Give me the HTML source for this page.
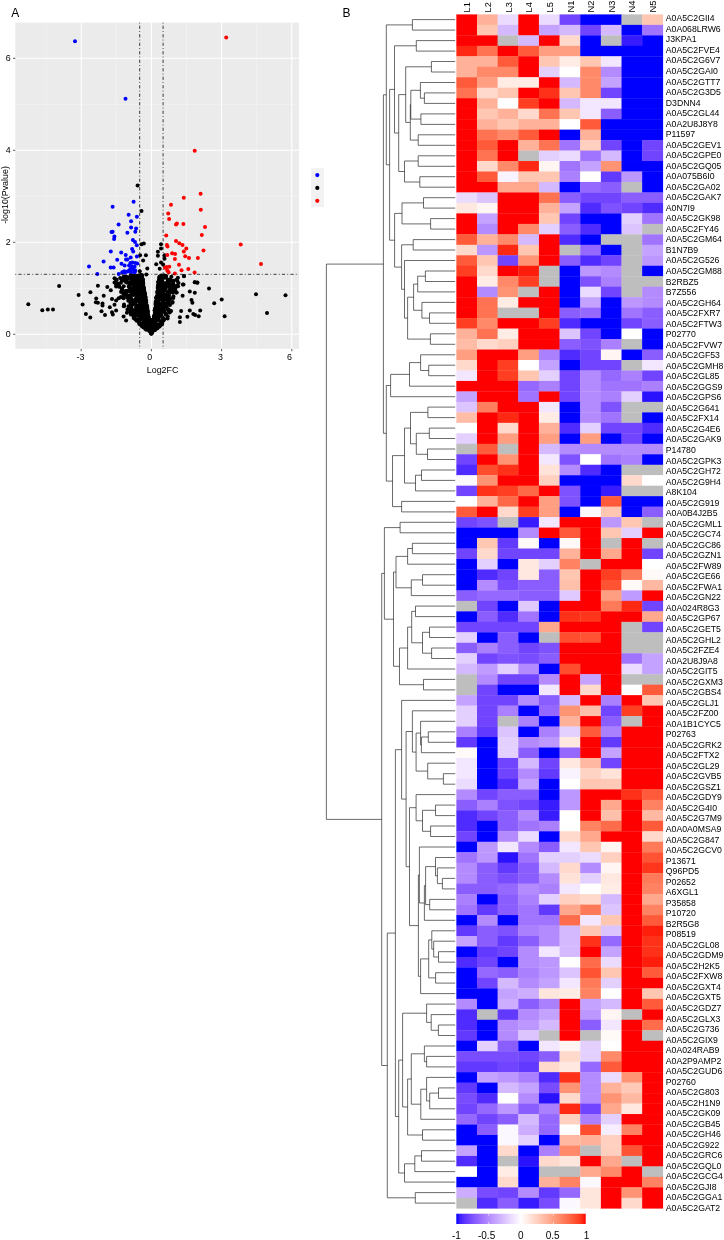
<!DOCTYPE html>
<html lang="en"><head><meta charset="utf-8"><title>Figure</title>
<style>html,body{margin:0;padding:0;background:#fff}body{width:724px;height:1240px;overflow:hidden}svg{display:block}text{font-family:"Liberation Sans",Arial,Helvetica,sans-serif;fill:#000}</style></head><body>
<svg width="724" height="1240" viewBox="0 0 724 1240">
<rect width="724" height="1240" fill="#fff"/>
<g id="volcano">
<rect x="15.3" y="22.6" width="283.7" height="326.3" fill="#ebebeb"/>
<path d="M46.1 22.6V348.9M116.3 22.6V348.9M186.5 22.6V348.9M256.7 22.6V348.9M15.3 288.3H299.0M15.3 196.3H299.0M15.3 104.3H299.0" stroke="#f5f5f5" stroke-width="0.55" fill="none"/>
<path d="M81.2 22.6V348.9M151.4 22.6V348.9M221.6 22.6V348.9M291.8 22.6V348.9M15.3 334.3H299.0M15.3 242.3H299.0M15.3 150.3H299.0M15.3 58.3H299.0" stroke="#ffffff" stroke-width="1.05" fill="none"/>
<g fill="#000"><circle cx="151.3" cy="325.9" r="2.0"/><circle cx="147.5" cy="311.8" r="2.0"/><circle cx="123.8" cy="294.2" r="2.0"/><circle cx="144.4" cy="301.0" r="2.0"/><circle cx="142.5" cy="282.7" r="2.0"/><circle cx="131.5" cy="308.3" r="2.0"/><circle cx="159.8" cy="280.4" r="2.0"/><circle cx="166.2" cy="306.5" r="2.0"/><circle cx="147.5" cy="315.3" r="2.0"/><circle cx="140.8" cy="306.1" r="2.0"/><circle cx="117.9" cy="283.6" r="2.0"/><circle cx="163.2" cy="292.9" r="2.0"/><circle cx="143.3" cy="325.0" r="2.0"/><circle cx="145.2" cy="296.2" r="2.0"/><circle cx="159.6" cy="310.3" r="2.0"/><circle cx="131.5" cy="293.5" r="2.0"/><circle cx="159.0" cy="316.7" r="2.0"/><circle cx="138.5" cy="290.5" r="2.0"/><circle cx="144.3" cy="303.1" r="2.0"/><circle cx="162.8" cy="296.2" r="2.0"/><circle cx="171.3" cy="285.8" r="2.0"/><circle cx="138.5" cy="282.2" r="2.0"/><circle cx="137.5" cy="283.6" r="2.0"/><circle cx="155.7" cy="303.5" r="2.0"/><circle cx="141.3" cy="276.5" r="2.0"/><circle cx="151.8" cy="321.3" r="2.0"/><circle cx="136.9" cy="276.7" r="2.0"/><circle cx="127.5" cy="297.7" r="2.0"/><circle cx="163.2" cy="312.1" r="2.0"/><circle cx="172.5" cy="286.1" r="2.0"/><circle cx="134.9" cy="294.0" r="2.0"/><circle cx="144.5" cy="304.8" r="2.0"/><circle cx="146.8" cy="305.5" r="2.0"/><circle cx="147.3" cy="307.9" r="2.0"/><circle cx="142.5" cy="281.5" r="2.0"/><circle cx="163.3" cy="296.9" r="2.0"/><circle cx="158.1" cy="285.4" r="2.0"/><circle cx="169.8" cy="291.2" r="2.0"/><circle cx="143.7" cy="299.2" r="2.0"/><circle cx="156.8" cy="320.3" r="2.0"/><circle cx="157.4" cy="292.1" r="2.0"/><circle cx="158.4" cy="292.7" r="2.0"/><circle cx="136.5" cy="310.7" r="2.0"/><circle cx="158.4" cy="324.5" r="2.0"/><circle cx="133.6" cy="277.2" r="2.0"/><circle cx="130.6" cy="303.4" r="2.0"/><circle cx="138.1" cy="320.0" r="2.0"/><circle cx="142.5" cy="286.3" r="2.0"/><circle cx="147.0" cy="315.4" r="2.0"/><circle cx="157.5" cy="293.6" r="2.0"/><circle cx="141.8" cy="280.7" r="2.0"/><circle cx="162.5" cy="298.7" r="2.0"/><circle cx="161.9" cy="297.2" r="2.0"/><circle cx="140.3" cy="293.3" r="2.0"/><circle cx="145.6" cy="297.2" r="2.0"/><circle cx="144.1" cy="301.1" r="2.0"/><circle cx="157.3" cy="296.2" r="2.0"/><circle cx="154.6" cy="321.6" r="2.0"/><circle cx="121.1" cy="292.1" r="2.0"/><circle cx="151.4" cy="328.7" r="2.0"/><circle cx="151.2" cy="320.3" r="2.0"/><circle cx="141.0" cy="291.5" r="2.0"/><circle cx="138.9" cy="293.5" r="2.0"/><circle cx="136.8" cy="280.7" r="2.0"/><circle cx="137.0" cy="289.4" r="2.0"/><circle cx="131.6" cy="305.3" r="2.0"/><circle cx="167.0" cy="282.5" r="2.0"/><circle cx="151.4" cy="320.9" r="2.0"/><circle cx="129.4" cy="296.4" r="2.0"/><circle cx="146.8" cy="318.0" r="2.0"/><circle cx="154.6" cy="319.0" r="2.0"/><circle cx="166.6" cy="294.1" r="2.0"/><circle cx="172.6" cy="302.0" r="2.0"/><circle cx="145.1" cy="300.4" r="2.0"/><circle cx="157.1" cy="298.9" r="2.0"/><circle cx="142.9" cy="288.8" r="2.0"/><circle cx="144.4" cy="296.7" r="2.0"/><circle cx="153.4" cy="320.4" r="2.0"/><circle cx="157.0" cy="298.4" r="2.0"/><circle cx="138.0" cy="297.9" r="2.0"/><circle cx="158.2" cy="303.2" r="2.0"/><circle cx="134.0" cy="310.4" r="2.0"/><circle cx="142.1" cy="290.7" r="2.0"/><circle cx="139.7" cy="296.5" r="2.0"/><circle cx="159.2" cy="310.4" r="2.0"/><circle cx="152.3" cy="320.6" r="2.0"/><circle cx="159.5" cy="276.8" r="2.0"/><circle cx="153.9" cy="315.9" r="2.0"/><circle cx="134.7" cy="301.2" r="2.0"/><circle cx="158.9" cy="289.4" r="2.0"/><circle cx="141.3" cy="282.9" r="2.0"/><circle cx="132.7" cy="312.6" r="2.0"/><circle cx="151.4" cy="328.2" r="2.0"/><circle cx="145.8" cy="318.4" r="2.0"/><circle cx="151.3" cy="323.3" r="2.0"/><circle cx="146.6" cy="313.3" r="2.0"/><circle cx="140.4" cy="278.7" r="2.0"/><circle cx="139.4" cy="319.6" r="2.0"/><circle cx="135.1" cy="285.4" r="2.0"/><circle cx="168.9" cy="310.9" r="2.0"/><circle cx="144.0" cy="318.2" r="2.0"/><circle cx="163.5" cy="297.8" r="2.0"/><circle cx="163.4" cy="283.6" r="2.0"/><circle cx="141.9" cy="278.2" r="2.0"/><circle cx="143.8" cy="322.8" r="2.0"/><circle cx="140.6" cy="280.4" r="2.0"/><circle cx="173.8" cy="290.1" r="2.0"/><circle cx="137.9" cy="315.5" r="2.0"/><circle cx="163.8" cy="289.9" r="2.0"/><circle cx="143.9" cy="297.0" r="2.0"/><circle cx="138.1" cy="319.4" r="2.0"/><circle cx="141.6" cy="276.3" r="2.0"/><circle cx="154.4" cy="324.3" r="2.0"/><circle cx="138.3" cy="288.8" r="2.0"/><circle cx="140.3" cy="284.6" r="2.0"/><circle cx="176.0" cy="292.6" r="2.0"/><circle cx="167.7" cy="279.7" r="2.0"/><circle cx="145.9" cy="328.7" r="2.0"/><circle cx="157.0" cy="296.3" r="2.0"/><circle cx="157.3" cy="303.8" r="2.0"/><circle cx="141.5" cy="279.0" r="2.0"/><circle cx="152.5" cy="323.6" r="2.0"/><circle cx="140.3" cy="311.7" r="2.0"/><circle cx="148.8" cy="325.8" r="2.0"/><circle cx="148.9" cy="318.4" r="2.0"/><circle cx="156.3" cy="300.9" r="2.0"/><circle cx="151.3" cy="320.3" r="2.0"/><circle cx="168.9" cy="295.2" r="2.0"/><circle cx="155.8" cy="310.7" r="2.0"/><circle cx="144.9" cy="307.3" r="2.0"/><circle cx="131.5" cy="308.9" r="2.0"/><circle cx="132.8" cy="289.8" r="2.0"/><circle cx="147.4" cy="318.7" r="2.0"/><circle cx="158.3" cy="287.0" r="2.0"/><circle cx="141.1" cy="295.6" r="2.0"/><circle cx="151.4" cy="326.5" r="2.0"/><circle cx="132.7" cy="314.8" r="2.0"/><circle cx="141.7" cy="280.3" r="2.0"/><circle cx="147.7" cy="316.5" r="2.0"/><circle cx="128.5" cy="306.3" r="2.0"/><circle cx="161.9" cy="300.2" r="2.0"/><circle cx="166.7" cy="306.4" r="2.0"/><circle cx="132.9" cy="291.5" r="2.0"/><circle cx="157.4" cy="298.6" r="2.0"/><circle cx="142.7" cy="283.4" r="2.0"/><circle cx="165.7" cy="284.1" r="2.0"/><circle cx="127.2" cy="282.8" r="2.0"/><circle cx="161.4" cy="294.8" r="2.0"/><circle cx="142.5" cy="279.9" r="2.0"/><circle cx="133.0" cy="314.1" r="2.0"/><circle cx="143.0" cy="301.5" r="2.0"/><circle cx="151.1" cy="327.5" r="2.0"/><circle cx="150.9" cy="325.4" r="2.0"/><circle cx="155.2" cy="309.3" r="2.0"/><circle cx="130.9" cy="314.6" r="2.0"/><circle cx="145.4" cy="310.4" r="2.0"/><circle cx="147.1" cy="319.5" r="2.0"/><circle cx="145.0" cy="298.8" r="2.0"/><circle cx="143.8" cy="293.7" r="2.0"/><circle cx="141.8" cy="275.2" r="2.0"/><circle cx="163.3" cy="309.1" r="2.0"/><circle cx="150.7" cy="320.4" r="2.0"/><circle cx="146.7" cy="313.9" r="2.0"/><circle cx="145.4" cy="314.8" r="2.0"/><circle cx="160.0" cy="294.2" r="2.0"/><circle cx="139.7" cy="320.8" r="2.0"/><circle cx="162.2" cy="323.7" r="2.0"/><circle cx="121.9" cy="288.7" r="2.0"/><circle cx="144.0" cy="297.0" r="2.0"/><circle cx="143.1" cy="303.3" r="2.0"/><circle cx="144.1" cy="293.4" r="2.0"/><circle cx="130.6" cy="302.5" r="2.0"/><circle cx="143.2" cy="290.6" r="2.0"/><circle cx="160.2" cy="298.5" r="2.0"/><circle cx="167.7" cy="291.9" r="2.0"/><circle cx="145.6" cy="300.3" r="2.0"/><circle cx="142.5" cy="285.5" r="2.0"/><circle cx="143.1" cy="283.2" r="2.0"/><circle cx="122.0" cy="289.2" r="2.0"/><circle cx="143.2" cy="316.6" r="2.0"/><circle cx="168.3" cy="285.9" r="2.0"/><circle cx="162.7" cy="289.0" r="2.0"/><circle cx="163.0" cy="300.8" r="2.0"/><circle cx="143.2" cy="311.9" r="2.0"/><circle cx="141.8" cy="277.1" r="2.0"/><circle cx="143.2" cy="285.1" r="2.0"/><circle cx="141.7" cy="280.0" r="2.0"/><circle cx="146.8" cy="306.8" r="2.0"/><circle cx="151.4" cy="323.5" r="2.0"/><circle cx="155.7" cy="307.6" r="2.0"/><circle cx="144.6" cy="293.1" r="2.0"/><circle cx="178.1" cy="286.2" r="2.0"/><circle cx="152.8" cy="328.6" r="2.0"/><circle cx="133.9" cy="287.4" r="2.0"/><circle cx="123.7" cy="286.3" r="2.0"/><circle cx="155.1" cy="319.1" r="2.0"/><circle cx="146.5" cy="305.5" r="2.0"/><circle cx="139.0" cy="288.0" r="2.0"/><circle cx="149.5" cy="323.0" r="2.0"/><circle cx="158.6" cy="300.1" r="2.0"/><circle cx="160.7" cy="276.5" r="2.0"/><circle cx="157.7" cy="317.5" r="2.0"/><circle cx="145.7" cy="321.4" r="2.0"/><circle cx="156.4" cy="297.6" r="2.0"/><circle cx="165.7" cy="314.4" r="2.0"/><circle cx="139.4" cy="309.5" r="2.0"/><circle cx="144.5" cy="293.6" r="2.0"/><circle cx="165.8" cy="306.3" r="2.0"/><circle cx="158.2" cy="293.2" r="2.0"/><circle cx="138.8" cy="275.6" r="2.0"/><circle cx="142.9" cy="307.8" r="2.0"/><circle cx="157.2" cy="297.2" r="2.0"/><circle cx="160.8" cy="312.2" r="2.0"/><circle cx="144.5" cy="294.0" r="2.0"/><circle cx="139.1" cy="322.6" r="2.0"/><circle cx="168.6" cy="282.6" r="2.0"/><circle cx="136.9" cy="312.9" r="2.0"/><circle cx="137.2" cy="313.9" r="2.0"/><circle cx="159.4" cy="298.0" r="2.0"/><circle cx="144.5" cy="296.7" r="2.0"/><circle cx="143.5" cy="322.3" r="2.0"/><circle cx="132.9" cy="293.6" r="2.0"/><circle cx="167.6" cy="300.5" r="2.0"/><circle cx="139.5" cy="285.7" r="2.0"/><circle cx="156.9" cy="307.3" r="2.0"/><circle cx="136.3" cy="308.5" r="2.0"/><circle cx="151.7" cy="327.4" r="2.0"/><circle cx="148.2" cy="325.1" r="2.0"/><circle cx="135.0" cy="303.3" r="2.0"/><circle cx="134.7" cy="289.2" r="2.0"/><circle cx="140.5" cy="304.7" r="2.0"/><circle cx="131.9" cy="294.8" r="2.0"/><circle cx="151.0" cy="322.3" r="2.0"/><circle cx="173.8" cy="291.1" r="2.0"/><circle cx="141.2" cy="277.3" r="2.0"/><circle cx="158.4" cy="319.3" r="2.0"/><circle cx="138.0" cy="294.6" r="2.0"/><circle cx="128.3" cy="300.7" r="2.0"/><circle cx="128.7" cy="286.5" r="2.0"/><circle cx="142.4" cy="278.8" r="2.0"/><circle cx="143.4" cy="290.1" r="2.0"/><circle cx="133.9" cy="284.4" r="2.0"/><circle cx="140.6" cy="314.1" r="2.0"/><circle cx="147.7" cy="311.8" r="2.0"/><circle cx="146.9" cy="310.8" r="2.0"/><circle cx="136.3" cy="282.4" r="2.0"/><circle cx="154.9" cy="317.9" r="2.0"/><circle cx="144.5" cy="291.7" r="2.0"/><circle cx="153.9" cy="316.5" r="2.0"/><circle cx="140.2" cy="296.7" r="2.0"/><circle cx="162.4" cy="303.7" r="2.0"/><circle cx="140.6" cy="294.4" r="2.0"/><circle cx="139.7" cy="284.2" r="2.0"/><circle cx="159.7" cy="283.9" r="2.0"/><circle cx="162.3" cy="281.2" r="2.0"/><circle cx="146.9" cy="308.5" r="2.0"/><circle cx="154.4" cy="318.9" r="2.0"/><circle cx="164.5" cy="287.5" r="2.0"/><circle cx="141.6" cy="282.4" r="2.0"/><circle cx="141.2" cy="284.8" r="2.0"/><circle cx="136.8" cy="300.9" r="2.0"/><circle cx="139.6" cy="282.1" r="2.0"/><circle cx="161.8" cy="285.9" r="2.0"/><circle cx="161.5" cy="275.6" r="2.0"/><circle cx="144.8" cy="303.3" r="2.0"/><circle cx="142.9" cy="282.6" r="2.0"/><circle cx="147.5" cy="310.0" r="2.0"/><circle cx="133.1" cy="281.5" r="2.0"/><circle cx="163.2" cy="295.0" r="2.0"/><circle cx="159.8" cy="303.7" r="2.0"/><circle cx="142.2" cy="279.4" r="2.0"/><circle cx="161.1" cy="282.5" r="2.0"/><circle cx="144.7" cy="294.0" r="2.0"/><circle cx="143.5" cy="298.4" r="2.0"/><circle cx="131.2" cy="277.8" r="2.0"/><circle cx="164.7" cy="286.5" r="2.0"/><circle cx="124.6" cy="277.6" r="2.0"/><circle cx="162.5" cy="287.4" r="2.0"/><circle cx="137.4" cy="289.0" r="2.0"/><circle cx="124.3" cy="276.8" r="2.0"/><circle cx="160.2" cy="297.0" r="2.0"/><circle cx="142.5" cy="278.8" r="2.0"/><circle cx="166.0" cy="276.7" r="2.0"/><circle cx="136.8" cy="307.3" r="2.0"/><circle cx="158.4" cy="282.6" r="2.0"/><circle cx="140.8" cy="279.0" r="2.0"/><circle cx="156.4" cy="306.7" r="2.0"/><circle cx="134.2" cy="301.8" r="2.0"/><circle cx="166.3" cy="296.9" r="2.0"/><circle cx="169.7" cy="312.6" r="2.0"/><circle cx="135.2" cy="277.1" r="2.0"/><circle cx="161.0" cy="276.9" r="2.0"/><circle cx="135.0" cy="280.4" r="2.0"/><circle cx="135.7" cy="298.9" r="2.0"/><circle cx="145.8" cy="304.8" r="2.0"/><circle cx="163.6" cy="286.9" r="2.0"/><circle cx="142.8" cy="307.6" r="2.0"/><circle cx="135.3" cy="278.5" r="2.0"/><circle cx="153.9" cy="323.9" r="2.0"/><circle cx="121.6" cy="279.7" r="2.0"/><circle cx="155.7" cy="312.4" r="2.0"/><circle cx="123.5" cy="293.7" r="2.0"/><circle cx="159.0" cy="279.7" r="2.0"/><circle cx="167.3" cy="309.6" r="2.0"/><circle cx="135.1" cy="319.0" r="2.0"/><circle cx="162.0" cy="281.6" r="2.0"/><circle cx="148.1" cy="322.7" r="2.0"/><circle cx="173.1" cy="285.7" r="2.0"/><circle cx="156.6" cy="313.2" r="2.0"/><circle cx="151.9" cy="327.4" r="2.0"/><circle cx="141.4" cy="325.0" r="2.0"/><circle cx="138.9" cy="299.1" r="2.0"/><circle cx="135.9" cy="302.1" r="2.0"/><circle cx="167.7" cy="316.3" r="2.0"/><circle cx="160.8" cy="310.9" r="2.0"/><circle cx="144.9" cy="297.1" r="2.0"/><circle cx="141.1" cy="319.3" r="2.0"/><circle cx="136.2" cy="299.4" r="2.0"/><circle cx="150.3" cy="320.2" r="2.0"/><circle cx="155.3" cy="318.8" r="2.0"/><circle cx="155.6" cy="304.9" r="2.0"/><circle cx="152.7" cy="328.4" r="2.0"/><circle cx="136.8" cy="275.8" r="2.0"/><circle cx="132.9" cy="304.6" r="2.0"/><circle cx="172.4" cy="302.7" r="2.0"/><circle cx="150.5" cy="325.5" r="2.0"/><circle cx="169.7" cy="280.1" r="2.0"/><circle cx="128.9" cy="282.6" r="2.0"/><circle cx="165.4" cy="306.9" r="2.0"/><circle cx="144.2" cy="310.1" r="2.0"/><circle cx="130.9" cy="301.3" r="2.0"/><circle cx="159.3" cy="293.6" r="2.0"/><circle cx="141.9" cy="287.2" r="2.0"/><circle cx="176.7" cy="292.5" r="2.0"/><circle cx="145.1" cy="301.1" r="2.0"/><circle cx="140.6" cy="281.4" r="2.0"/><circle cx="141.9" cy="294.9" r="2.0"/><circle cx="144.0" cy="288.9" r="2.0"/><circle cx="144.1" cy="302.6" r="2.0"/><circle cx="136.7" cy="291.0" r="2.0"/><circle cx="145.2" cy="302.0" r="2.0"/><circle cx="126.2" cy="277.8" r="2.0"/><circle cx="156.2" cy="308.8" r="2.0"/><circle cx="136.4" cy="280.2" r="2.0"/><circle cx="136.6" cy="320.8" r="2.0"/><circle cx="136.1" cy="293.7" r="2.0"/><circle cx="156.4" cy="297.6" r="2.0"/><circle cx="162.9" cy="317.7" r="2.0"/><circle cx="116.2" cy="284.6" r="2.0"/><circle cx="161.8" cy="278.5" r="2.0"/><circle cx="148.2" cy="316.8" r="2.0"/><circle cx="164.7" cy="296.0" r="2.0"/><circle cx="167.4" cy="282.6" r="2.0"/><circle cx="137.1" cy="291.6" r="2.0"/><circle cx="163.2" cy="291.7" r="2.0"/><circle cx="175.1" cy="286.0" r="2.0"/><circle cx="158.6" cy="283.1" r="2.0"/><circle cx="137.3" cy="297.1" r="2.0"/><circle cx="146.1" cy="305.3" r="2.0"/><circle cx="127.4" cy="309.4" r="2.0"/><circle cx="146.3" cy="310.4" r="2.0"/><circle cx="140.4" cy="299.0" r="2.0"/><circle cx="168.9" cy="310.6" r="2.0"/><circle cx="133.6" cy="300.4" r="2.0"/><circle cx="164.5" cy="295.1" r="2.0"/><circle cx="155.3" cy="324.0" r="2.0"/><circle cx="138.3" cy="284.9" r="2.0"/><circle cx="139.5" cy="284.9" r="2.0"/><circle cx="127.7" cy="295.6" r="2.0"/><circle cx="146.1" cy="305.7" r="2.0"/><circle cx="158.4" cy="287.3" r="2.0"/><circle cx="151.3" cy="328.1" r="2.0"/><circle cx="159.7" cy="310.7" r="2.0"/><circle cx="159.5" cy="294.4" r="2.0"/><circle cx="130.3" cy="312.4" r="2.0"/><circle cx="159.1" cy="314.5" r="2.0"/><circle cx="139.9" cy="293.0" r="2.0"/><circle cx="142.0" cy="297.8" r="2.0"/><circle cx="168.5" cy="309.3" r="2.0"/><circle cx="144.0" cy="295.1" r="2.0"/><circle cx="136.4" cy="309.1" r="2.0"/><circle cx="136.5" cy="279.6" r="2.0"/><circle cx="175.6" cy="287.1" r="2.0"/><circle cx="158.9" cy="282.1" r="2.0"/><circle cx="173.4" cy="296.2" r="2.0"/><circle cx="142.1" cy="280.7" r="2.0"/><circle cx="137.9" cy="309.7" r="2.0"/><circle cx="135.3" cy="319.1" r="2.0"/><circle cx="166.9" cy="284.3" r="2.0"/><circle cx="142.6" cy="281.7" r="2.0"/><circle cx="140.8" cy="297.7" r="2.0"/><circle cx="139.6" cy="290.1" r="2.0"/><circle cx="141.4" cy="295.9" r="2.0"/><circle cx="161.5" cy="281.9" r="2.0"/><circle cx="138.8" cy="293.8" r="2.0"/><circle cx="148.1" cy="315.0" r="2.0"/><circle cx="145.9" cy="310.9" r="2.0"/><circle cx="134.1" cy="315.2" r="2.0"/><circle cx="158.8" cy="308.1" r="2.0"/><circle cx="126.4" cy="281.2" r="2.0"/><circle cx="144.8" cy="314.1" r="2.0"/><circle cx="155.7" cy="307.7" r="2.0"/><circle cx="145.7" cy="300.8" r="2.0"/><circle cx="142.5" cy="280.8" r="2.0"/><circle cx="156.3" cy="310.8" r="2.0"/><circle cx="150.7" cy="326.4" r="2.0"/><circle cx="120.1" cy="278.0" r="2.0"/><circle cx="174.7" cy="288.8" r="2.0"/><circle cx="157.9" cy="310.2" r="2.0"/><circle cx="123.6" cy="280.6" r="2.0"/><circle cx="141.9" cy="290.6" r="2.0"/><circle cx="159.4" cy="277.5" r="2.0"/><circle cx="168.0" cy="300.2" r="2.0"/><circle cx="144.4" cy="299.3" r="2.0"/><circle cx="140.5" cy="297.3" r="2.0"/><circle cx="138.1" cy="285.0" r="2.0"/><circle cx="168.9" cy="301.2" r="2.0"/><circle cx="142.5" cy="284.3" r="2.0"/><circle cx="143.8" cy="294.9" r="2.0"/><circle cx="141.7" cy="277.2" r="2.0"/><circle cx="140.3" cy="298.0" r="2.0"/><circle cx="131.1" cy="298.3" r="2.0"/><circle cx="130.7" cy="275.2" r="2.0"/><circle cx="173.4" cy="280.8" r="2.0"/><circle cx="173.4" cy="290.7" r="2.0"/><circle cx="144.6" cy="318.6" r="2.0"/><circle cx="171.1" cy="311.1" r="2.0"/><circle cx="131.4" cy="279.1" r="2.0"/><circle cx="144.1" cy="307.9" r="2.0"/><circle cx="140.6" cy="276.0" r="2.0"/><circle cx="151.5" cy="321.3" r="2.0"/><circle cx="162.3" cy="306.4" r="2.0"/><circle cx="139.6" cy="309.5" r="2.0"/><circle cx="165.7" cy="288.4" r="2.0"/><circle cx="142.7" cy="299.5" r="2.0"/><circle cx="128.3" cy="277.4" r="2.0"/><circle cx="150.3" cy="326.8" r="2.0"/><circle cx="140.5" cy="290.2" r="2.0"/><circle cx="161.5" cy="276.2" r="2.0"/><circle cx="165.3" cy="298.5" r="2.0"/><circle cx="154.2" cy="320.6" r="2.0"/><circle cx="152.0" cy="326.8" r="2.0"/><circle cx="141.6" cy="305.9" r="2.0"/><circle cx="142.1" cy="288.4" r="2.0"/><circle cx="138.3" cy="307.5" r="2.0"/><circle cx="149.6" cy="319.8" r="2.0"/><circle cx="140.3" cy="315.4" r="2.0"/><circle cx="134.5" cy="286.3" r="2.0"/><circle cx="143.2" cy="287.5" r="2.0"/><circle cx="160.7" cy="292.1" r="2.0"/><circle cx="144.5" cy="294.7" r="2.0"/><circle cx="144.5" cy="306.2" r="2.0"/><circle cx="161.9" cy="282.8" r="2.0"/><circle cx="143.3" cy="305.0" r="2.0"/><circle cx="151.4" cy="327.7" r="2.0"/><circle cx="143.2" cy="296.4" r="2.0"/><circle cx="141.9" cy="287.1" r="2.0"/><circle cx="124.0" cy="304.4" r="2.0"/><circle cx="139.6" cy="302.3" r="2.0"/><circle cx="159.4" cy="305.9" r="2.0"/><circle cx="126.9" cy="291.5" r="2.0"/><circle cx="141.1" cy="278.6" r="2.0"/><circle cx="134.3" cy="277.3" r="2.0"/><circle cx="167.4" cy="297.2" r="2.0"/><circle cx="132.7" cy="294.0" r="2.0"/><circle cx="134.7" cy="288.1" r="2.0"/><circle cx="141.8" cy="277.8" r="2.0"/><circle cx="144.8" cy="294.1" r="2.0"/><circle cx="125.6" cy="292.3" r="2.0"/><circle cx="139.4" cy="322.5" r="2.0"/><circle cx="141.0" cy="294.6" r="2.0"/><circle cx="135.9" cy="313.0" r="2.0"/><circle cx="158.3" cy="290.9" r="2.0"/><circle cx="151.4" cy="326.6" r="2.0"/><circle cx="151.4" cy="321.9" r="2.0"/><circle cx="165.1" cy="299.5" r="2.0"/><circle cx="144.7" cy="301.2" r="2.0"/><circle cx="164.5" cy="275.4" r="2.0"/><circle cx="141.0" cy="293.0" r="2.0"/><circle cx="131.0" cy="291.5" r="2.0"/><circle cx="138.6" cy="293.9" r="2.0"/><circle cx="159.2" cy="296.4" r="2.0"/><circle cx="133.2" cy="279.9" r="2.0"/><circle cx="149.2" cy="322.3" r="2.0"/><circle cx="143.8" cy="317.5" r="2.0"/><circle cx="170.4" cy="280.4" r="2.0"/><circle cx="159.6" cy="295.7" r="2.0"/><circle cx="151.3" cy="323.3" r="2.0"/><circle cx="155.0" cy="320.7" r="2.0"/><circle cx="156.0" cy="325.5" r="2.0"/><circle cx="155.6" cy="314.1" r="2.0"/><circle cx="140.8" cy="275.4" r="2.0"/><circle cx="143.1" cy="305.0" r="2.0"/><circle cx="164.3" cy="283.6" r="2.0"/><circle cx="159.9" cy="276.9" r="2.0"/><circle cx="160.7" cy="289.8" r="2.0"/><circle cx="140.7" cy="294.2" r="2.0"/><circle cx="146.5" cy="315.0" r="2.0"/><circle cx="141.6" cy="316.8" r="2.0"/><circle cx="156.1" cy="304.2" r="2.0"/><circle cx="136.7" cy="311.2" r="2.0"/><circle cx="169.6" cy="298.2" r="2.0"/><circle cx="142.5" cy="286.9" r="2.0"/><circle cx="134.3" cy="276.4" r="2.0"/><circle cx="159.1" cy="307.1" r="2.0"/><circle cx="149.5" cy="324.5" r="2.0"/><circle cx="142.9" cy="282.3" r="2.0"/><circle cx="146.0" cy="316.1" r="2.0"/><circle cx="140.3" cy="280.4" r="2.0"/><circle cx="165.6" cy="304.0" r="2.0"/><circle cx="161.1" cy="285.3" r="2.0"/><circle cx="158.3" cy="292.7" r="2.0"/><circle cx="142.2" cy="293.4" r="2.0"/><circle cx="151.1" cy="320.9" r="2.0"/><circle cx="139.7" cy="314.8" r="2.0"/><circle cx="141.6" cy="278.1" r="2.0"/><circle cx="144.2" cy="295.4" r="2.0"/><circle cx="131.3" cy="276.1" r="2.0"/><circle cx="141.0" cy="281.1" r="2.0"/><circle cx="142.7" cy="279.7" r="2.0"/><circle cx="177.0" cy="285.5" r="2.0"/><circle cx="133.7" cy="315.9" r="2.0"/><circle cx="141.9" cy="313.3" r="2.0"/><circle cx="156.3" cy="306.3" r="2.0"/><circle cx="140.8" cy="282.3" r="2.0"/><circle cx="177.4" cy="281.0" r="2.0"/><circle cx="166.2" cy="276.0" r="2.0"/><circle cx="136.9" cy="298.9" r="2.0"/><circle cx="133.7" cy="288.2" r="2.0"/><circle cx="155.4" cy="309.4" r="2.0"/><circle cx="164.2" cy="290.4" r="2.0"/><circle cx="142.8" cy="284.7" r="2.0"/><circle cx="126.3" cy="276.7" r="2.0"/><circle cx="136.5" cy="307.2" r="2.0"/><circle cx="143.6" cy="291.4" r="2.0"/><circle cx="158.4" cy="285.3" r="2.0"/><circle cx="149.2" cy="321.5" r="2.0"/><circle cx="144.0" cy="290.2" r="2.0"/><circle cx="159.4" cy="285.2" r="2.0"/><circle cx="143.1" cy="286.5" r="2.0"/><circle cx="146.4" cy="309.8" r="2.0"/><circle cx="150.9" cy="325.7" r="2.0"/><circle cx="139.1" cy="318.8" r="2.0"/><circle cx="155.4" cy="311.0" r="2.0"/><circle cx="151.5" cy="324.8" r="2.0"/><circle cx="159.7" cy="287.8" r="2.0"/><circle cx="126.3" cy="294.8" r="2.0"/><circle cx="136.9" cy="306.1" r="2.0"/><circle cx="143.8" cy="302.5" r="2.0"/><circle cx="139.5" cy="280.8" r="2.0"/><circle cx="129.1" cy="295.4" r="2.0"/><circle cx="123.8" cy="306.2" r="2.0"/><circle cx="159.7" cy="280.5" r="2.0"/><circle cx="140.1" cy="293.9" r="2.0"/><circle cx="138.8" cy="297.7" r="2.0"/><circle cx="146.2" cy="302.0" r="2.0"/><circle cx="157.5" cy="303.4" r="2.0"/><circle cx="129.0" cy="290.7" r="2.0"/><circle cx="133.7" cy="277.6" r="2.0"/><circle cx="151.4" cy="320.4" r="2.0"/><circle cx="132.8" cy="277.3" r="2.0"/><circle cx="154.9" cy="322.9" r="2.0"/><circle cx="139.8" cy="298.1" r="2.0"/><circle cx="168.2" cy="302.2" r="2.0"/><circle cx="140.8" cy="283.8" r="2.0"/><circle cx="129.8" cy="288.8" r="2.0"/><circle cx="154.9" cy="313.1" r="2.0"/><circle cx="155.0" cy="315.5" r="2.0"/><circle cx="137.3" cy="291.1" r="2.0"/><circle cx="143.1" cy="286.2" r="2.0"/><circle cx="146.2" cy="305.7" r="2.0"/><circle cx="160.4" cy="297.2" r="2.0"/><circle cx="141.8" cy="275.9" r="2.0"/><circle cx="156.6" cy="298.2" r="2.0"/><circle cx="132.6" cy="281.8" r="2.0"/><circle cx="159.0" cy="283.7" r="2.0"/><circle cx="164.3" cy="298.9" r="2.0"/><circle cx="142.4" cy="311.3" r="2.0"/><circle cx="134.1" cy="313.4" r="2.0"/><circle cx="151.4" cy="323.4" r="2.0"/><circle cx="134.0" cy="290.6" r="2.0"/><circle cx="145.0" cy="303.8" r="2.0"/><circle cx="151.9" cy="326.1" r="2.0"/><circle cx="143.7" cy="290.6" r="2.0"/><circle cx="144.3" cy="293.5" r="2.0"/><circle cx="162.7" cy="318.3" r="2.0"/><circle cx="133.5" cy="275.5" r="2.0"/><circle cx="136.8" cy="294.8" r="2.0"/><circle cx="165.5" cy="285.6" r="2.0"/><circle cx="156.4" cy="298.5" r="2.0"/><circle cx="159.6" cy="312.3" r="2.0"/><circle cx="144.4" cy="294.2" r="2.0"/><circle cx="159.0" cy="297.5" r="2.0"/><circle cx="148.2" cy="323.3" r="2.0"/><circle cx="147.4" cy="317.6" r="2.0"/><circle cx="155.5" cy="309.0" r="2.0"/><circle cx="161.4" cy="285.4" r="2.0"/><circle cx="155.9" cy="304.2" r="2.0"/><circle cx="170.7" cy="284.2" r="2.0"/><circle cx="137.9" cy="276.6" r="2.0"/><circle cx="141.5" cy="281.5" r="2.0"/><circle cx="160.7" cy="293.3" r="2.0"/><circle cx="151.4" cy="321.2" r="2.0"/><circle cx="159.5" cy="284.2" r="2.0"/><circle cx="161.8" cy="322.1" r="2.0"/><circle cx="122.1" cy="278.4" r="2.0"/><circle cx="141.8" cy="278.3" r="2.0"/><circle cx="173.2" cy="283.0" r="2.0"/><circle cx="140.5" cy="286.9" r="2.0"/><circle cx="147.7" cy="314.4" r="2.0"/><circle cx="128.4" cy="296.4" r="2.0"/><circle cx="159.9" cy="276.6" r="2.0"/><circle cx="145.3" cy="311.7" r="2.0"/><circle cx="123.6" cy="277.2" r="2.0"/><circle cx="161.9" cy="288.3" r="2.0"/><circle cx="141.6" cy="278.3" r="2.0"/><circle cx="137.6" cy="305.4" r="2.0"/><circle cx="136.0" cy="280.5" r="2.0"/><circle cx="142.1" cy="317.7" r="2.0"/><circle cx="127.1" cy="279.0" r="2.0"/><circle cx="167.6" cy="318.6" r="2.0"/><circle cx="143.7" cy="293.1" r="2.0"/><circle cx="155.9" cy="309.8" r="2.0"/><circle cx="161.2" cy="314.9" r="2.0"/><circle cx="141.5" cy="296.2" r="2.0"/><circle cx="146.6" cy="315.3" r="2.0"/><circle cx="140.1" cy="312.5" r="2.0"/><circle cx="141.9" cy="279.1" r="2.0"/><circle cx="156.8" cy="313.6" r="2.0"/><circle cx="141.0" cy="299.8" r="2.0"/><circle cx="127.8" cy="291.1" r="2.0"/><circle cx="170.0" cy="298.4" r="2.0"/><circle cx="140.0" cy="285.9" r="2.0"/><circle cx="167.3" cy="303.6" r="2.0"/><circle cx="144.0" cy="308.9" r="2.0"/><circle cx="132.8" cy="283.5" r="2.0"/><circle cx="154.8" cy="326.6" r="2.0"/><circle cx="140.9" cy="312.5" r="2.0"/><circle cx="158.1" cy="313.8" r="2.0"/><circle cx="125.0" cy="293.7" r="2.0"/><circle cx="151.4" cy="325.7" r="2.0"/><circle cx="151.4" cy="326.6" r="2.0"/><circle cx="117.6" cy="284.1" r="2.0"/><circle cx="158.4" cy="288.7" r="2.0"/><circle cx="148.9" cy="318.7" r="2.0"/><circle cx="154.2" cy="324.6" r="2.0"/><circle cx="158.0" cy="287.7" r="2.0"/><circle cx="146.5" cy="305.5" r="2.0"/><circle cx="126.9" cy="312.8" r="2.0"/><circle cx="135.4" cy="289.3" r="2.0"/><circle cx="170.4" cy="291.5" r="2.0"/><circle cx="142.6" cy="305.0" r="2.0"/><circle cx="144.9" cy="295.5" r="2.0"/><circle cx="141.2" cy="281.0" r="2.0"/><circle cx="139.1" cy="291.0" r="2.0"/><circle cx="177.9" cy="277.8" r="2.0"/><circle cx="141.2" cy="286.9" r="2.0"/><circle cx="166.2" cy="313.7" r="2.0"/><circle cx="138.0" cy="278.3" r="2.0"/><circle cx="158.0" cy="309.6" r="2.0"/><circle cx="140.5" cy="303.8" r="2.0"/><circle cx="134.6" cy="276.2" r="2.0"/><circle cx="136.4" cy="306.5" r="2.0"/><circle cx="158.5" cy="324.6" r="2.0"/><circle cx="163.3" cy="283.6" r="2.0"/><circle cx="165.2" cy="298.3" r="2.0"/><circle cx="159.0" cy="312.2" r="2.0"/><circle cx="145.0" cy="302.9" r="2.0"/><circle cx="124.0" cy="276.8" r="2.0"/><circle cx="149.7" cy="325.0" r="2.0"/><circle cx="138.9" cy="283.0" r="2.0"/><circle cx="154.8" cy="310.7" r="2.0"/><circle cx="145.4" cy="301.5" r="2.0"/><circle cx="157.9" cy="286.4" r="2.0"/><circle cx="142.8" cy="302.5" r="2.0"/><circle cx="158.5" cy="290.0" r="2.0"/><circle cx="143.9" cy="290.0" r="2.0"/><circle cx="154.6" cy="310.3" r="2.0"/><circle cx="158.3" cy="281.7" r="2.0"/><circle cx="150.7" cy="328.8" r="2.0"/><circle cx="155.7" cy="312.6" r="2.0"/><circle cx="142.0" cy="316.8" r="2.0"/><circle cx="152.5" cy="319.9" r="2.0"/><circle cx="169.6" cy="287.2" r="2.0"/><circle cx="146.0" cy="310.4" r="2.0"/><circle cx="151.3" cy="326.9" r="2.0"/><circle cx="158.4" cy="297.8" r="2.0"/><circle cx="144.8" cy="297.4" r="2.0"/><circle cx="155.5" cy="307.7" r="2.0"/><circle cx="159.9" cy="286.8" r="2.0"/><circle cx="159.3" cy="298.6" r="2.0"/><circle cx="132.0" cy="291.3" r="2.0"/><circle cx="167.5" cy="282.3" r="2.0"/><circle cx="133.2" cy="280.5" r="2.0"/><circle cx="160.7" cy="287.9" r="2.0"/><circle cx="151.0" cy="320.5" r="2.0"/><circle cx="150.6" cy="320.2" r="2.0"/><circle cx="157.3" cy="291.7" r="2.0"/><circle cx="163.6" cy="302.2" r="2.0"/><circle cx="140.3" cy="275.5" r="2.0"/><circle cx="161.4" cy="310.0" r="2.0"/><circle cx="143.6" cy="292.5" r="2.0"/><circle cx="166.7" cy="285.3" r="2.0"/><circle cx="139.2" cy="294.6" r="2.0"/><circle cx="153.7" cy="318.8" r="2.0"/><circle cx="164.6" cy="277.7" r="2.0"/><circle cx="143.7" cy="287.3" r="2.0"/><circle cx="146.1" cy="310.7" r="2.0"/><circle cx="160.9" cy="286.5" r="2.0"/><circle cx="129.7" cy="285.7" r="2.0"/><circle cx="157.1" cy="300.8" r="2.0"/><circle cx="147.8" cy="315.8" r="2.0"/><circle cx="162.6" cy="290.8" r="2.0"/><circle cx="124.2" cy="305.7" r="2.0"/><circle cx="148.9" cy="317.9" r="2.0"/><circle cx="138.2" cy="314.1" r="2.0"/><circle cx="145.3" cy="327.7" r="2.0"/><circle cx="146.0" cy="301.7" r="2.0"/><circle cx="138.1" cy="291.9" r="2.0"/><circle cx="145.7" cy="307.1" r="2.0"/><circle cx="122.1" cy="290.9" r="2.0"/><circle cx="140.8" cy="316.4" r="2.0"/><circle cx="151.4" cy="322.7" r="2.0"/><circle cx="145.8" cy="299.6" r="2.0"/><circle cx="147.4" cy="318.4" r="2.0"/><circle cx="163.5" cy="320.6" r="2.0"/><circle cx="141.1" cy="301.0" r="2.0"/><circle cx="144.1" cy="309.1" r="2.0"/><circle cx="133.6" cy="318.1" r="2.0"/><circle cx="155.0" cy="317.3" r="2.0"/><circle cx="125.4" cy="291.1" r="2.0"/><circle cx="141.2" cy="276.0" r="2.0"/><circle cx="133.0" cy="284.5" r="2.0"/><circle cx="119.1" cy="286.8" r="2.0"/><circle cx="140.5" cy="312.2" r="2.0"/><circle cx="144.2" cy="301.9" r="2.0"/><circle cx="156.3" cy="313.3" r="2.0"/><circle cx="128.5" cy="277.7" r="2.0"/><circle cx="157.7" cy="288.0" r="2.0"/><circle cx="170.6" cy="298.8" r="2.0"/><circle cx="170.0" cy="305.0" r="2.0"/><circle cx="160.3" cy="279.2" r="2.0"/><circle cx="143.3" cy="288.2" r="2.0"/><circle cx="130.4" cy="290.1" r="2.0"/><circle cx="168.9" cy="286.0" r="2.0"/><circle cx="155.8" cy="301.5" r="2.0"/><circle cx="160.3" cy="321.3" r="2.0"/><circle cx="141.6" cy="275.1" r="2.0"/><circle cx="130.9" cy="275.4" r="2.0"/><circle cx="146.2" cy="306.3" r="2.0"/><circle cx="163.4" cy="320.6" r="2.0"/><circle cx="157.8" cy="298.1" r="2.0"/><circle cx="166.4" cy="304.0" r="2.0"/><circle cx="155.8" cy="321.5" r="2.0"/><circle cx="116.4" cy="280.2" r="2.0"/><circle cx="137.2" cy="290.6" r="2.0"/><circle cx="155.6" cy="303.1" r="2.0"/><circle cx="146.0" cy="316.5" r="2.0"/><circle cx="151.1" cy="324.5" r="2.0"/><circle cx="138.4" cy="311.1" r="2.0"/><circle cx="151.7" cy="324.2" r="2.0"/><circle cx="151.1" cy="330.2" r="2.0"/><circle cx="131.1" cy="304.8" r="2.0"/><circle cx="132.0" cy="276.8" r="2.0"/><circle cx="165.7" cy="276.2" r="2.0"/><circle cx="173.3" cy="298.1" r="2.0"/><circle cx="164.3" cy="290.2" r="2.0"/><circle cx="136.5" cy="305.8" r="2.0"/><circle cx="144.3" cy="301.6" r="2.0"/><circle cx="142.4" cy="288.8" r="2.0"/><circle cx="129.4" cy="310.1" r="2.0"/><circle cx="136.6" cy="287.2" r="2.0"/><circle cx="144.1" cy="300.8" r="2.0"/><circle cx="142.7" cy="307.7" r="2.0"/><circle cx="142.1" cy="276.8" r="2.0"/><circle cx="172.8" cy="284.1" r="2.0"/><circle cx="143.1" cy="288.1" r="2.0"/><circle cx="120.8" cy="297.2" r="2.0"/><circle cx="154.6" cy="315.6" r="2.0"/><circle cx="127.5" cy="278.8" r="2.0"/><circle cx="121.0" cy="297.3" r="2.0"/><circle cx="156.4" cy="315.9" r="2.0"/><circle cx="162.2" cy="307.4" r="2.0"/><circle cx="145.3" cy="301.7" r="2.0"/><circle cx="123.9" cy="297.1" r="2.0"/><circle cx="146.2" cy="302.6" r="2.0"/><circle cx="166.3" cy="298.8" r="2.0"/><circle cx="151.6" cy="327.6" r="2.0"/><circle cx="141.7" cy="278.7" r="2.0"/><circle cx="136.4" cy="281.2" r="2.0"/><circle cx="142.7" cy="288.3" r="2.0"/><circle cx="125.1" cy="294.7" r="2.0"/><circle cx="158.6" cy="282.5" r="2.0"/><circle cx="158.2" cy="300.8" r="2.0"/><circle cx="159.1" cy="298.0" r="2.0"/><circle cx="127.6" cy="290.8" r="2.0"/><circle cx="172.6" cy="292.4" r="2.0"/><circle cx="142.0" cy="296.8" r="2.0"/><circle cx="147.7" cy="318.9" r="2.0"/><circle cx="150.4" cy="320.4" r="2.0"/><circle cx="156.2" cy="301.4" r="2.0"/><circle cx="147.8" cy="312.1" r="2.0"/><circle cx="155.1" cy="315.5" r="2.0"/><circle cx="130.8" cy="283.6" r="2.0"/><circle cx="132.1" cy="311.9" r="2.0"/><circle cx="143.0" cy="293.1" r="2.0"/><circle cx="130.5" cy="288.1" r="2.0"/><circle cx="151.2" cy="322.8" r="2.0"/><circle cx="151.4" cy="322.9" r="2.0"/><circle cx="133.9" cy="303.6" r="2.0"/><circle cx="155.6" cy="308.2" r="2.0"/><circle cx="164.3" cy="311.3" r="2.0"/><circle cx="178.5" cy="282.9" r="2.0"/><circle cx="147.0" cy="311.9" r="2.0"/><circle cx="148.5" cy="320.6" r="2.0"/><circle cx="143.6" cy="291.9" r="2.0"/><circle cx="172.4" cy="288.4" r="2.0"/><circle cx="142.1" cy="280.0" r="2.0"/><circle cx="159.0" cy="285.3" r="2.0"/><circle cx="158.8" cy="317.0" r="2.0"/><circle cx="164.2" cy="319.1" r="2.0"/><circle cx="134.8" cy="316.7" r="2.0"/><circle cx="137.2" cy="292.5" r="2.0"/><circle cx="148.6" cy="316.8" r="2.0"/><circle cx="143.3" cy="302.7" r="2.0"/><circle cx="142.4" cy="286.3" r="2.0"/><circle cx="145.8" cy="319.3" r="2.0"/><circle cx="159.1" cy="280.8" r="2.0"/><circle cx="143.0" cy="291.0" r="2.0"/><circle cx="144.8" cy="295.9" r="2.0"/><circle cx="144.4" cy="307.4" r="2.0"/><circle cx="162.0" cy="280.1" r="2.0"/><circle cx="142.6" cy="279.7" r="2.0"/><circle cx="161.1" cy="286.1" r="2.0"/><circle cx="141.7" cy="326.0" r="2.0"/><circle cx="154.9" cy="321.3" r="2.0"/><circle cx="158.1" cy="285.6" r="2.0"/><circle cx="141.0" cy="288.8" r="2.0"/><circle cx="116.4" cy="279.4" r="2.0"/><circle cx="123.6" cy="298.3" r="2.0"/><circle cx="140.6" cy="296.2" r="2.0"/><circle cx="151.8" cy="320.7" r="2.0"/><circle cx="135.3" cy="282.5" r="2.0"/><circle cx="118.6" cy="284.4" r="2.0"/><circle cx="168.4" cy="303.4" r="2.0"/><circle cx="145.1" cy="299.3" r="2.0"/><circle cx="143.8" cy="320.5" r="2.0"/><circle cx="144.9" cy="302.1" r="2.0"/><circle cx="144.2" cy="322.0" r="2.0"/><circle cx="160.5" cy="294.9" r="2.0"/><circle cx="170.4" cy="287.1" r="2.0"/><circle cx="168.0" cy="297.6" r="2.0"/><circle cx="157.0" cy="325.9" r="2.0"/><circle cx="148.1" cy="315.0" r="2.0"/><circle cx="154.9" cy="316.3" r="2.0"/><circle cx="138.2" cy="279.6" r="2.0"/><circle cx="142.5" cy="291.5" r="2.0"/><circle cx="142.0" cy="323.7" r="2.0"/><circle cx="136.7" cy="297.3" r="2.0"/><circle cx="150.3" cy="328.7" r="2.0"/><circle cx="121.5" cy="290.9" r="2.0"/><circle cx="175.9" cy="292.0" r="2.0"/><circle cx="164.3" cy="296.4" r="2.0"/><circle cx="156.7" cy="296.9" r="2.0"/><circle cx="172.7" cy="285.2" r="2.0"/><circle cx="165.9" cy="284.2" r="2.0"/><circle cx="136.5" cy="291.9" r="2.0"/><circle cx="126.0" cy="281.9" r="2.0"/><circle cx="158.2" cy="296.4" r="2.0"/><circle cx="170.1" cy="279.2" r="2.0"/><circle cx="161.7" cy="290.7" r="2.0"/><circle cx="142.9" cy="310.6" r="2.0"/><circle cx="171.4" cy="276.8" r="2.0"/><circle cx="144.7" cy="293.9" r="2.0"/><circle cx="147.3" cy="310.2" r="2.0"/><circle cx="176.4" cy="279.8" r="2.0"/><circle cx="131.2" cy="280.8" r="2.0"/><circle cx="141.4" cy="312.4" r="2.0"/><circle cx="140.4" cy="287.3" r="2.0"/><circle cx="133.3" cy="279.2" r="2.0"/><circle cx="143.2" cy="284.0" r="2.0"/><circle cx="142.0" cy="294.6" r="2.0"/><circle cx="136.0" cy="294.9" r="2.0"/><circle cx="147.0" cy="316.4" r="2.0"/><circle cx="121.0" cy="282.8" r="2.0"/><circle cx="139.5" cy="300.0" r="2.0"/><circle cx="133.4" cy="294.9" r="2.0"/><circle cx="149.2" cy="320.0" r="2.0"/><circle cx="142.5" cy="282.4" r="2.0"/><circle cx="148.4" cy="318.4" r="2.0"/><circle cx="158.7" cy="297.6" r="2.0"/><circle cx="150.6" cy="323.5" r="2.0"/><circle cx="169.3" cy="290.4" r="2.0"/><circle cx="159.5" cy="277.9" r="2.0"/><circle cx="165.5" cy="299.5" r="2.0"/><circle cx="169.3" cy="293.3" r="2.0"/><circle cx="175.3" cy="288.6" r="2.0"/><circle cx="159.3" cy="280.6" r="2.0"/><circle cx="150.9" cy="326.6" r="2.0"/><circle cx="158.7" cy="281.2" r="2.0"/><circle cx="149.4" cy="329.6" r="2.0"/><circle cx="151.3" cy="326.0" r="2.0"/><circle cx="151.3" cy="330.7" r="2.0"/><circle cx="149.6" cy="330.2" r="2.0"/><circle cx="144.2" cy="326.3" r="2.0"/><circle cx="151.4" cy="333.5" r="2.0"/><circle cx="150.9" cy="330.3" r="2.0"/><circle cx="161.8" cy="323.7" r="2.0"/><circle cx="151.6" cy="332.0" r="2.0"/><circle cx="151.4" cy="333.5" r="2.0"/><circle cx="153.0" cy="323.6" r="2.0"/><circle cx="153.2" cy="326.6" r="2.0"/><circle cx="151.4" cy="333.5" r="2.0"/><circle cx="151.2" cy="329.2" r="2.0"/><circle cx="153.3" cy="328.1" r="2.0"/><circle cx="148.6" cy="329.1" r="2.0"/><circle cx="142.8" cy="326.6" r="2.0"/><circle cx="151.4" cy="332.9" r="2.0"/><circle cx="149.2" cy="329.8" r="2.0"/><circle cx="153.2" cy="330.6" r="2.0"/><circle cx="143.2" cy="327.3" r="2.0"/><circle cx="150.9" cy="331.1" r="2.0"/><circle cx="150.8" cy="331.2" r="2.0"/><circle cx="146.3" cy="328.7" r="2.0"/><circle cx="151.1" cy="329.9" r="2.0"/><circle cx="152.4" cy="329.0" r="2.0"/><circle cx="149.9" cy="330.0" r="2.0"/><circle cx="154.5" cy="329.1" r="2.0"/><circle cx="151.7" cy="324.2" r="2.0"/><circle cx="150.3" cy="325.9" r="2.0"/><circle cx="150.0" cy="326.4" r="2.0"/><circle cx="153.6" cy="328.5" r="2.0"/><circle cx="146.4" cy="324.5" r="2.0"/><circle cx="152.8" cy="323.8" r="2.0"/><circle cx="151.4" cy="333.3" r="2.0"/><circle cx="143.8" cy="323.8" r="2.0"/><circle cx="156.7" cy="326.4" r="2.0"/><circle cx="151.7" cy="327.2" r="2.0"/><circle cx="140.5" cy="324.1" r="2.0"/><circle cx="155.0" cy="330.1" r="2.0"/><circle cx="139.3" cy="323.9" r="2.0"/><circle cx="151.0" cy="329.0" r="2.0"/><circle cx="151.3" cy="332.5" r="2.0"/><circle cx="151.1" cy="332.4" r="2.0"/><circle cx="150.9" cy="332.0" r="2.0"/><circle cx="143.4" cy="325.3" r="2.0"/><circle cx="156.0" cy="326.6" r="2.0"/><circle cx="143.5" cy="323.9" r="2.0"/><circle cx="144.0" cy="327.3" r="2.0"/><circle cx="151.4" cy="332.6" r="2.0"/><circle cx="160.8" cy="325.0" r="2.0"/><circle cx="146.2" cy="323.8" r="2.0"/><circle cx="157.5" cy="328.3" r="2.0"/><circle cx="145.8" cy="326.5" r="2.0"/><circle cx="151.2" cy="331.6" r="2.0"/><circle cx="154.4" cy="329.7" r="2.0"/><circle cx="151.6" cy="327.6" r="2.0"/><circle cx="151.6" cy="330.9" r="2.0"/><circle cx="150.2" cy="328.4" r="2.0"/><circle cx="151.6" cy="329.9" r="2.0"/><circle cx="145.2" cy="328.8" r="2.0"/><circle cx="150.3" cy="331.9" r="2.0"/><circle cx="155.9" cy="329.1" r="2.0"/><circle cx="148.4" cy="324.2" r="2.0"/><circle cx="143.8" cy="323.8" r="2.0"/><circle cx="154.7" cy="329.7" r="2.0"/><circle cx="147.8" cy="328.5" r="2.0"/><circle cx="145.8" cy="327.4" r="2.0"/><circle cx="148.8" cy="327.8" r="2.0"/><circle cx="149.3" cy="331.0" r="2.0"/><circle cx="154.2" cy="328.0" r="2.0"/><circle cx="145.1" cy="326.0" r="2.0"/><circle cx="149.1" cy="330.3" r="2.0"/><circle cx="159.6" cy="326.5" r="2.0"/><circle cx="154.4" cy="326.9" r="2.0"/><circle cx="151.0" cy="331.7" r="2.0"/><circle cx="153.5" cy="329.6" r="2.0"/><circle cx="151.4" cy="333.4" r="2.0"/><circle cx="153.4" cy="328.6" r="2.0"/><circle cx="144.1" cy="326.3" r="2.0"/><circle cx="154.1" cy="329.4" r="2.0"/><circle cx="146.4" cy="329.7" r="2.0"/><circle cx="143.4" cy="324.0" r="2.0"/><circle cx="145.4" cy="328.1" r="2.0"/><circle cx="146.0" cy="325.4" r="2.0"/><circle cx="151.4" cy="333.3" r="2.0"/><circle cx="151.0" cy="331.4" r="2.0"/><circle cx="140.3" cy="323.9" r="2.0"/><circle cx="151.3" cy="332.4" r="2.0"/><circle cx="152.6" cy="331.4" r="2.0"/><circle cx="28.3" cy="304.3" r="2.0"/><circle cx="42.3" cy="310.3" r="2.0"/><circle cx="47.8" cy="309.4" r="2.0"/><circle cx="53.0" cy="309.4" r="2.0"/><circle cx="59.1" cy="285.9" r="2.0"/><circle cx="78.6" cy="295.0" r="2.0"/><circle cx="82.6" cy="304.6" r="2.0"/><circle cx="85.9" cy="313.9" r="2.0"/><circle cx="90.3" cy="317.4" r="2.0"/><circle cx="90.4" cy="292.3" r="2.0"/><circle cx="97.9" cy="285.7" r="2.0"/><circle cx="96.2" cy="298.6" r="2.0"/><circle cx="95.9" cy="302.3" r="2.0"/><circle cx="97.9" cy="302.8" r="2.0"/><circle cx="103.7" cy="295.8" r="2.0"/><circle cx="102.5" cy="303.5" r="2.0"/><circle cx="102.5" cy="305.6" r="2.0"/><circle cx="101.5" cy="311.2" r="2.0"/><circle cx="105.0" cy="315.1" r="2.0"/><circle cx="107.3" cy="287.0" r="2.0"/><circle cx="110.8" cy="290.2" r="2.0"/><circle cx="109.8" cy="307.3" r="2.0"/><circle cx="112.0" cy="312.2" r="2.0"/><circle cx="112.8" cy="314.4" r="2.0"/><circle cx="114.5" cy="278.3" r="2.0"/><circle cx="114.5" cy="282.4" r="2.0"/><circle cx="116.1" cy="286.5" r="2.0"/><circle cx="119.4" cy="286.5" r="2.0"/><circle cx="112.0" cy="299.0" r="2.0"/><circle cx="114.5" cy="304.8" r="2.0"/><circle cx="116.1" cy="300.6" r="2.0"/><circle cx="118.6" cy="298.2" r="2.0"/><circle cx="116.1" cy="310.6" r="2.0"/><circle cx="123.6" cy="316.4" r="2.0"/><circle cx="126.1" cy="320.5" r="2.0"/><circle cx="184.0" cy="276.3" r="2.0"/><circle cx="194.8" cy="282.2" r="2.0"/><circle cx="197.3" cy="282.8" r="2.0"/><circle cx="183.5" cy="284.4" r="2.0"/><circle cx="209.0" cy="288.5" r="2.0"/><circle cx="189.8" cy="291.6" r="2.0"/><circle cx="194.8" cy="292.8" r="2.0"/><circle cx="182.6" cy="295.7" r="2.0"/><circle cx="256.0" cy="294.3" r="2.0"/><circle cx="285.5" cy="295.2" r="2.0"/><circle cx="221.7" cy="299.5" r="2.0"/><circle cx="191.5" cy="300.0" r="2.0"/><circle cx="192.4" cy="302.7" r="2.0"/><circle cx="214.2" cy="303.2" r="2.0"/><circle cx="200.2" cy="310.6" r="2.0"/><circle cx="189.8" cy="310.4" r="2.0"/><circle cx="181.1" cy="311.0" r="2.0"/><circle cx="267.0" cy="313.1" r="2.0"/><circle cx="193.3" cy="314.0" r="2.0"/><circle cx="195.1" cy="314.9" r="2.0"/><circle cx="198.7" cy="316.2" r="2.0"/><circle cx="224.6" cy="316.2" r="2.0"/><circle cx="187.4" cy="316.7" r="2.0"/><circle cx="179.9" cy="317.2" r="2.0"/><circle cx="179.9" cy="322.1" r="2.0"/><circle cx="137.6" cy="185.5" r="2.0"/><circle cx="141.5" cy="210.9" r="2.0"/><circle cx="141.5" cy="244.2" r="2.0"/><circle cx="143.8" cy="243.5" r="2.0"/><circle cx="140.1" cy="255.3" r="2.0"/><circle cx="145.9" cy="255.3" r="2.0"/><circle cx="143.1" cy="260.5" r="2.0"/><circle cx="147.3" cy="268.4" r="2.0"/><circle cx="139.8" cy="271.2" r="2.0"/><circle cx="146.3" cy="274.6" r="2.0"/><circle cx="161.0" cy="244.2" r="2.0"/><circle cx="161.0" cy="248.6" r="2.0"/><circle cx="157.9" cy="251.8" r="2.0"/><circle cx="157.9" cy="255.7" r="2.0"/><circle cx="164.5" cy="255.3" r="2.0"/><circle cx="164.5" cy="258.7" r="2.0"/><circle cx="161.0" cy="262.5" r="2.0"/><circle cx="156.2" cy="264.3" r="2.0"/><circle cx="163.1" cy="264.5" r="2.0"/><circle cx="159.7" cy="268.8" r="2.0"/><circle cx="183.8" cy="276.0" r="2.0"/><circle cx="194.9" cy="282.2" r="2.0"/><circle cx="197.4" cy="282.6" r="2.0"/><circle cx="182.9" cy="284.6" r="2.0"/></g>
<g fill="#0000ff"><circle cx="133.6" cy="201.8" r="2.0"/><circle cx="112.6" cy="206.7" r="2.0"/><circle cx="128.6" cy="214.8" r="2.0"/><circle cx="136.9" cy="216.7" r="2.0"/><circle cx="131.1" cy="221.2" r="2.0"/><circle cx="118.6" cy="224.6" r="2.0"/><circle cx="131.1" cy="227.4" r="2.0"/><circle cx="136.1" cy="228.6" r="2.0"/><circle cx="135.3" cy="231.8" r="2.0"/><circle cx="111.5" cy="232.1" r="2.0"/><circle cx="112.6" cy="231.8" r="2.0"/><circle cx="127.4" cy="232.8" r="2.0"/><circle cx="114.4" cy="236.4" r="2.0"/><circle cx="114.1" cy="239.1" r="2.0"/><circle cx="132.9" cy="240.1" r="2.0"/><circle cx="135.0" cy="242.0" r="2.0"/><circle cx="136.8" cy="245.3" r="2.0"/><circle cx="132.1" cy="249.1" r="2.0"/><circle cx="133.2" cy="251.4" r="2.0"/><circle cx="110.8" cy="251.4" r="2.0"/><circle cx="121.2" cy="252.4" r="2.0"/><circle cx="125.7" cy="255.0" r="2.0"/><circle cx="130.7" cy="257.6" r="2.0"/><circle cx="136.9" cy="256.4" r="2.0"/><circle cx="117.2" cy="259.8" r="2.0"/><circle cx="126.0" cy="259.6" r="2.0"/><circle cx="127.4" cy="259.6" r="2.0"/><circle cx="103.6" cy="261.5" r="2.0"/><circle cx="121.5" cy="263.8" r="2.0"/><circle cx="124.6" cy="265.4" r="2.0"/><circle cx="130.4" cy="262.9" r="2.0"/><circle cx="132.5" cy="262.6" r="2.0"/><circle cx="135.3" cy="262.9" r="2.0"/><circle cx="137.3" cy="263.6" r="2.0"/><circle cx="129.1" cy="265.6" r="2.0"/><circle cx="131.8" cy="266.3" r="2.0"/><circle cx="134.6" cy="266.7" r="2.0"/><circle cx="89.0" cy="266.6" r="2.0"/><circle cx="110.7" cy="267.4" r="2.0"/><circle cx="113.6" cy="267.4" r="2.0"/><circle cx="130.4" cy="269.1" r="2.0"/><circle cx="133.2" cy="269.5" r="2.0"/><circle cx="135.3" cy="270.5" r="2.0"/><circle cx="124.2" cy="271.2" r="2.0"/><circle cx="127.7" cy="271.6" r="2.0"/><circle cx="131.1" cy="272.3" r="2.0"/><circle cx="134.6" cy="272.3" r="2.0"/><circle cx="122.2" cy="272.3" r="2.0"/><circle cx="97.3" cy="273.9" r="2.0"/><circle cx="118.7" cy="273.9" r="2.0"/><circle cx="124.9" cy="272.8" r="2.0"/><circle cx="129.1" cy="270.5" r="2.0"/><circle cx="75.0" cy="41.2" r="2.0"/><circle cx="125.5" cy="98.8" r="2.0"/></g>
<g fill="#ff0000"><circle cx="200.6" cy="193.8" r="2.0"/><circle cx="183.8" cy="197.7" r="2.0"/><circle cx="171.0" cy="204.7" r="2.0"/><circle cx="200.8" cy="209.7" r="2.0"/><circle cx="168.2" cy="213.6" r="2.0"/><circle cx="169.1" cy="219.1" r="2.0"/><circle cx="176.0" cy="224.5" r="2.0"/><circle cx="176.9" cy="223.6" r="2.0"/><circle cx="183.4" cy="223.9" r="2.0"/><circle cx="205.0" cy="227.0" r="2.0"/><circle cx="166.2" cy="235.5" r="2.0"/><circle cx="201.8" cy="235.1" r="2.0"/><circle cx="176.0" cy="241.0" r="2.0"/><circle cx="179.3" cy="243.3" r="2.0"/><circle cx="182.5" cy="244.9" r="2.0"/><circle cx="240.7" cy="244.6" r="2.0"/><circle cx="166.9" cy="244.9" r="2.0"/><circle cx="167.5" cy="246.6" r="2.0"/><circle cx="186.3" cy="248.6" r="2.0"/><circle cx="183.8" cy="251.4" r="2.0"/><circle cx="203.5" cy="250.6" r="2.0"/><circle cx="167.3" cy="255.0" r="2.0"/><circle cx="172.1" cy="253.2" r="2.0"/><circle cx="175.1" cy="253.9" r="2.0"/><circle cx="185.2" cy="256.2" r="2.0"/><circle cx="189.0" cy="258.0" r="2.0"/><circle cx="197.9" cy="257.9" r="2.0"/><circle cx="174.9" cy="259.1" r="2.0"/><circle cx="179.0" cy="264.7" r="2.0"/><circle cx="166.6" cy="267.0" r="2.0"/><circle cx="169.3" cy="266.7" r="2.0"/><circle cx="164.9" cy="267.7" r="2.0"/><circle cx="188.3" cy="269.0" r="2.0"/><circle cx="181.5" cy="270.2" r="2.0"/><circle cx="167.3" cy="270.5" r="2.0"/><circle cx="168.6" cy="272.3" r="2.0"/><circle cx="194.6" cy="272.5" r="2.0"/><circle cx="174.9" cy="273.5" r="2.0"/><circle cx="226.2" cy="37.6" r="2.0"/><circle cx="194.7" cy="150.7" r="2.0"/><circle cx="261.0" cy="264.1" r="2.0"/></g>
<path d="M139.7 22.6V348.9M163.1 22.6V348.9M15.3 274.3H299.0" stroke="#000" stroke-width="0.75" stroke-dasharray="0.9 2.2 3.2 2.2" fill="none"/>
<path d="M13.0 334.3H15.3M13.0 242.3H15.3M13.0 150.3H15.3M13.0 58.3H15.3M81.2 348.9v2.4M151.4 348.9v2.4M221.6 348.9v2.4M291.8 348.9v2.4" stroke="#333" stroke-width="0.8" fill="none"/>
<text x="10.8" y="336.9" font-size="8.9" text-anchor="end" fill="#1f1f1f">0</text>
<text x="10.8" y="244.9" font-size="8.9" text-anchor="end" fill="#1f1f1f">2</text>
<text x="10.8" y="152.9" font-size="8.9" text-anchor="end" fill="#1f1f1f">4</text>
<text x="10.8" y="60.9" font-size="8.9" text-anchor="end" fill="#1f1f1f">6</text>
<text x="80.5" y="359.7" font-size="8.9" text-anchor="middle" fill="#1f1f1f">-3</text>
<text x="149.6" y="359.7" font-size="8.9" text-anchor="middle" fill="#1f1f1f">0</text>
<text x="220.4" y="359.7" font-size="8.9" text-anchor="middle" fill="#1f1f1f">3</text>
<text x="289.4" y="359.7" font-size="8.9" text-anchor="middle" fill="#1f1f1f">6</text>
<text x="162.6" y="372.8" font-size="8.9" text-anchor="middle">Log2FC</text>
<text transform="translate(7.6 195) rotate(-90)" font-size="8.9" text-anchor="middle">-log10(Pvalue)</text>
<rect x="311.1" y="168.2" width="12.9" height="38.9" fill="#f2f2f2"/>
<circle cx="317.3" cy="175.1" r="2.1" fill="#0000ff"/><circle cx="317.3" cy="187.9" r="2.1" fill="#000"/><circle cx="317.3" cy="200.8" r="2.1" fill="#ff0000"/>
<text x="11.2" y="16.6" font-size="12">A</text>
</g>
<g id="heatmap">
<rect x="456.35" y="14.40" width="20.94" height="10.77" fill="#ff0000"/>
<rect x="477.00" y="14.40" width="20.94" height="10.77" fill="#ffb299"/>
<rect x="497.64" y="14.40" width="20.94" height="10.77" fill="#ebdcff"/>
<rect x="518.28" y="14.40" width="20.94" height="10.77" fill="#ff0000"/>
<rect x="538.93" y="14.40" width="20.94" height="10.77" fill="#ebdcff"/>
<rect x="559.58" y="14.40" width="20.94" height="10.77" fill="#7145ff"/>
<rect x="580.22" y="14.40" width="41.59" height="10.77" fill="#0000ff"/>
<rect x="621.51" y="14.40" width="20.94" height="10.77" fill="#bebebe"/>
<rect x="642.15" y="14.40" width="20.94" height="10.77" fill="#ffc6b2"/>
<rect x="456.35" y="24.87" width="20.94" height="10.77" fill="#ff0000"/>
<rect x="477.00" y="24.87" width="20.94" height="10.77" fill="#ffc6b2"/>
<rect x="497.64" y="24.87" width="20.94" height="10.77" fill="#d4b9ff"/>
<rect x="518.28" y="24.87" width="20.94" height="10.77" fill="#ff0000"/>
<rect x="538.93" y="24.87" width="20.94" height="10.77" fill="#c4a2ff"/>
<rect x="559.58" y="24.87" width="20.94" height="10.77" fill="#d4b9ff"/>
<rect x="580.22" y="24.87" width="20.94" height="10.77" fill="#7145ff"/>
<rect x="600.87" y="24.87" width="20.94" height="10.77" fill="#d4b9ff"/>
<rect x="621.51" y="24.87" width="20.94" height="10.77" fill="#0000ff"/>
<rect x="642.15" y="24.87" width="20.94" height="10.77" fill="#a074ff"/>
<rect x="456.35" y="35.35" width="41.59" height="10.77" fill="#ff0000"/>
<rect x="497.64" y="35.35" width="20.94" height="10.77" fill="#bebebe"/>
<rect x="518.28" y="35.35" width="20.94" height="10.77" fill="#d4b9ff"/>
<rect x="538.93" y="35.35" width="20.94" height="10.77" fill="#ff0000"/>
<rect x="559.58" y="35.35" width="20.94" height="10.77" fill="#ffd9cb"/>
<rect x="580.22" y="35.35" width="20.94" height="10.77" fill="#0000ff"/>
<rect x="600.87" y="35.35" width="20.94" height="10.77" fill="#bebebe"/>
<rect x="621.51" y="35.35" width="20.94" height="10.77" fill="#381bff"/>
<rect x="642.15" y="35.35" width="20.94" height="10.77" fill="#0000ff"/>
<rect x="456.35" y="45.82" width="20.94" height="10.77" fill="#ff2913"/>
<rect x="477.00" y="45.82" width="20.94" height="10.77" fill="#ff7352"/>
<rect x="497.64" y="45.82" width="20.94" height="10.77" fill="#ff0000"/>
<rect x="518.28" y="45.82" width="20.94" height="10.77" fill="#ff5b3a"/>
<rect x="538.93" y="45.82" width="41.59" height="10.77" fill="#ff9e81"/>
<rect x="580.22" y="45.82" width="82.88" height="10.77" fill="#0000ff"/>
<rect x="456.35" y="56.29" width="41.59" height="10.77" fill="#ffb299"/>
<rect x="497.64" y="56.29" width="20.94" height="10.77" fill="#ff5b3a"/>
<rect x="518.28" y="56.29" width="20.94" height="10.77" fill="#ff0000"/>
<rect x="538.93" y="56.29" width="20.94" height="10.77" fill="#ffc6b2"/>
<rect x="559.58" y="56.29" width="20.94" height="10.77" fill="#ffece5"/>
<rect x="580.22" y="56.29" width="20.94" height="10.77" fill="#ffc6b2"/>
<rect x="600.87" y="56.29" width="20.94" height="10.77" fill="#f2e7ff"/>
<rect x="621.51" y="56.29" width="41.59" height="10.77" fill="#0000ff"/>
<rect x="456.35" y="66.76" width="20.94" height="10.77" fill="#ffb299"/>
<rect x="477.00" y="66.76" width="41.59" height="10.77" fill="#ff8969"/>
<rect x="518.28" y="66.76" width="20.94" height="10.77" fill="#ff0000"/>
<rect x="538.93" y="66.76" width="20.94" height="10.77" fill="#e3d0ff"/>
<rect x="559.58" y="66.76" width="20.94" height="10.77" fill="#ffffff"/>
<rect x="580.22" y="66.76" width="20.94" height="10.77" fill="#ff8969"/>
<rect x="600.87" y="66.76" width="20.94" height="10.77" fill="#b38bff"/>
<rect x="621.51" y="66.76" width="41.59" height="10.77" fill="#0000ff"/>
<rect x="456.35" y="77.24" width="20.94" height="10.77" fill="#ff5b3a"/>
<rect x="477.00" y="77.24" width="20.94" height="10.77" fill="#ff9e81"/>
<rect x="497.64" y="77.24" width="41.59" height="10.77" fill="#ffece5"/>
<rect x="538.93" y="77.24" width="20.94" height="10.77" fill="#ff0000"/>
<rect x="559.58" y="77.24" width="20.94" height="10.77" fill="#d4b9ff"/>
<rect x="580.22" y="77.24" width="20.94" height="10.77" fill="#ff8969"/>
<rect x="600.87" y="77.24" width="20.94" height="10.77" fill="#c4a2ff"/>
<rect x="621.51" y="77.24" width="41.59" height="10.77" fill="#0000ff"/>
<rect x="456.35" y="87.71" width="20.94" height="10.77" fill="#ff7352"/>
<rect x="477.00" y="87.71" width="20.94" height="10.77" fill="#ffd9cb"/>
<rect x="497.64" y="87.71" width="20.94" height="10.77" fill="#ffc6b2"/>
<rect x="518.28" y="87.71" width="20.94" height="10.77" fill="#ff0000"/>
<rect x="538.93" y="87.71" width="20.94" height="10.77" fill="#ff3219"/>
<rect x="559.58" y="87.71" width="20.94" height="10.77" fill="#ffc6b2"/>
<rect x="580.22" y="87.71" width="20.94" height="10.77" fill="#ff8969"/>
<rect x="600.87" y="87.71" width="20.94" height="10.77" fill="#7145ff"/>
<rect x="621.51" y="87.71" width="41.59" height="10.77" fill="#0000ff"/>
<rect x="456.35" y="98.18" width="20.94" height="10.77" fill="#ff0000"/>
<rect x="477.00" y="98.18" width="20.94" height="10.77" fill="#ffb299"/>
<rect x="497.64" y="98.18" width="20.94" height="10.77" fill="#ffffff"/>
<rect x="518.28" y="98.18" width="20.94" height="10.77" fill="#ff3e22"/>
<rect x="538.93" y="98.18" width="20.94" height="10.77" fill="#ff0000"/>
<rect x="559.58" y="98.18" width="20.94" height="10.77" fill="#d4b9ff"/>
<rect x="580.22" y="98.18" width="41.59" height="10.77" fill="#f2e7ff"/>
<rect x="621.51" y="98.18" width="41.59" height="10.77" fill="#0000ff"/>
<rect x="456.35" y="108.66" width="20.94" height="10.77" fill="#ff0000"/>
<rect x="477.00" y="108.66" width="20.94" height="10.77" fill="#ffc6b2"/>
<rect x="497.64" y="108.66" width="20.94" height="10.77" fill="#ffb299"/>
<rect x="518.28" y="108.66" width="20.94" height="10.77" fill="#ffd9cb"/>
<rect x="538.93" y="108.66" width="20.94" height="10.77" fill="#ff7352"/>
<rect x="559.58" y="108.66" width="20.94" height="10.77" fill="#ffc6b2"/>
<rect x="580.22" y="108.66" width="20.94" height="10.77" fill="#f2e7ff"/>
<rect x="600.87" y="108.66" width="20.94" height="10.77" fill="#8a5dff"/>
<rect x="621.51" y="108.66" width="41.59" height="10.77" fill="#0000ff"/>
<rect x="456.35" y="119.13" width="20.94" height="10.77" fill="#ff0000"/>
<rect x="477.00" y="119.13" width="20.94" height="10.77" fill="#ffb299"/>
<rect x="497.64" y="119.13" width="20.94" height="10.77" fill="#ffc6b2"/>
<rect x="518.28" y="119.13" width="41.59" height="10.77" fill="#ffb299"/>
<rect x="559.58" y="119.13" width="20.94" height="10.77" fill="#ffffff"/>
<rect x="580.22" y="119.13" width="20.94" height="10.77" fill="#ff5b3a"/>
<rect x="600.87" y="119.13" width="62.23" height="10.77" fill="#0000ff"/>
<rect x="456.35" y="129.60" width="20.94" height="10.77" fill="#ff0000"/>
<rect x="477.00" y="129.60" width="20.94" height="10.77" fill="#ff7352"/>
<rect x="497.64" y="129.60" width="20.94" height="10.77" fill="#ff8969"/>
<rect x="518.28" y="129.60" width="20.94" height="10.77" fill="#ff5b3a"/>
<rect x="538.93" y="129.60" width="20.94" height="10.77" fill="#ff0000"/>
<rect x="559.58" y="129.60" width="20.94" height="10.77" fill="#0000ff"/>
<rect x="580.22" y="129.60" width="20.94" height="10.77" fill="#ffb299"/>
<rect x="600.87" y="129.60" width="62.23" height="10.77" fill="#0000ff"/>
<rect x="456.35" y="140.07" width="20.94" height="10.77" fill="#ff0000"/>
<rect x="477.00" y="140.07" width="20.94" height="10.77" fill="#ff5b3a"/>
<rect x="497.64" y="140.07" width="20.94" height="10.77" fill="#ff0000"/>
<rect x="518.28" y="140.07" width="20.94" height="10.77" fill="#ffb299"/>
<rect x="538.93" y="140.07" width="20.94" height="10.77" fill="#ff7352"/>
<rect x="559.58" y="140.07" width="20.94" height="10.77" fill="#a074ff"/>
<rect x="580.22" y="140.07" width="20.94" height="10.77" fill="#ffcfbf"/>
<rect x="600.87" y="140.07" width="20.94" height="10.77" fill="#7145ff"/>
<rect x="621.51" y="140.07" width="20.94" height="10.77" fill="#0000ff"/>
<rect x="642.15" y="140.07" width="20.94" height="10.77" fill="#7145ff"/>
<rect x="456.35" y="150.55" width="20.94" height="10.77" fill="#ff0000"/>
<rect x="477.00" y="150.55" width="20.94" height="10.77" fill="#ff7352"/>
<rect x="497.64" y="150.55" width="20.94" height="10.77" fill="#ff0000"/>
<rect x="518.28" y="150.55" width="20.94" height="10.77" fill="#bebebe"/>
<rect x="538.93" y="150.55" width="20.94" height="10.77" fill="#e3d0ff"/>
<rect x="559.58" y="150.55" width="20.94" height="10.77" fill="#ebdcff"/>
<rect x="580.22" y="150.55" width="20.94" height="10.77" fill="#a074ff"/>
<rect x="600.87" y="150.55" width="20.94" height="10.77" fill="#d4b9ff"/>
<rect x="621.51" y="150.55" width="20.94" height="10.77" fill="#0000ff"/>
<rect x="642.15" y="150.55" width="20.94" height="10.77" fill="#7145ff"/>
<rect x="456.35" y="161.02" width="20.94" height="10.77" fill="#ff0000"/>
<rect x="477.00" y="161.02" width="20.94" height="10.77" fill="#ffd9cb"/>
<rect x="497.64" y="161.02" width="20.94" height="10.77" fill="#ff8969"/>
<rect x="518.28" y="161.02" width="20.94" height="10.77" fill="#ff2913"/>
<rect x="538.93" y="161.02" width="20.94" height="10.77" fill="#fff5f2"/>
<rect x="559.58" y="161.02" width="20.94" height="10.77" fill="#a074ff"/>
<rect x="580.22" y="161.02" width="20.94" height="10.77" fill="#c4a2ff"/>
<rect x="600.87" y="161.02" width="20.94" height="10.77" fill="#ff9475"/>
<rect x="621.51" y="161.02" width="41.59" height="10.77" fill="#0000ff"/>
<rect x="456.35" y="171.49" width="20.94" height="10.77" fill="#ff0000"/>
<rect x="477.00" y="171.49" width="20.94" height="10.77" fill="#ff5b3a"/>
<rect x="497.64" y="171.49" width="20.94" height="10.77" fill="#f8f3ff"/>
<rect x="518.28" y="171.49" width="41.59" height="10.77" fill="#ffc6b2"/>
<rect x="559.58" y="171.49" width="20.94" height="10.77" fill="#aa80ff"/>
<rect x="580.22" y="171.49" width="20.94" height="10.77" fill="#ffffff"/>
<rect x="600.87" y="171.49" width="20.94" height="10.77" fill="#6239ff"/>
<rect x="621.51" y="171.49" width="20.94" height="10.77" fill="#bc97ff"/>
<rect x="642.15" y="171.49" width="20.94" height="10.77" fill="#0000ff"/>
<rect x="456.35" y="181.96" width="41.59" height="10.77" fill="#ff0000"/>
<rect x="497.64" y="181.96" width="41.59" height="10.77" fill="#ffa88d"/>
<rect x="538.93" y="181.96" width="20.94" height="10.77" fill="#d4b9ff"/>
<rect x="559.58" y="181.96" width="20.94" height="10.77" fill="#0000ff"/>
<rect x="580.22" y="181.96" width="20.94" height="10.77" fill="#9569ff"/>
<rect x="600.87" y="181.96" width="20.94" height="10.77" fill="#8a5dff"/>
<rect x="621.51" y="181.96" width="20.94" height="10.77" fill="#bebebe"/>
<rect x="642.15" y="181.96" width="20.94" height="10.77" fill="#0000ff"/>
<rect x="456.35" y="192.44" width="20.94" height="10.77" fill="#ebdcff"/>
<rect x="477.00" y="192.44" width="20.94" height="10.77" fill="#dcc4ff"/>
<rect x="497.64" y="192.44" width="41.59" height="10.77" fill="#ff0000"/>
<rect x="538.93" y="192.44" width="20.94" height="10.77" fill="#ff7352"/>
<rect x="559.58" y="192.44" width="20.94" height="10.77" fill="#8a5dff"/>
<rect x="580.22" y="192.44" width="41.59" height="10.77" fill="#7145ff"/>
<rect x="621.51" y="192.44" width="41.59" height="10.77" fill="#8a5dff"/>
<rect x="456.35" y="202.91" width="20.94" height="10.77" fill="#ffe8e0"/>
<rect x="477.00" y="202.91" width="20.94" height="10.77" fill="#fff5f2"/>
<rect x="497.64" y="202.91" width="41.59" height="10.77" fill="#ff0000"/>
<rect x="538.93" y="202.91" width="20.94" height="10.77" fill="#ffb299"/>
<rect x="559.58" y="202.91" width="20.94" height="10.77" fill="#c4a2ff"/>
<rect x="580.22" y="202.91" width="20.94" height="10.77" fill="#502bff"/>
<rect x="600.87" y="202.91" width="20.94" height="10.77" fill="#7e52ff"/>
<rect x="621.51" y="202.91" width="20.94" height="10.77" fill="#7145ff"/>
<rect x="642.15" y="202.91" width="20.94" height="10.77" fill="#502bff"/>
<rect x="456.35" y="213.38" width="20.94" height="10.77" fill="#ff0000"/>
<rect x="477.00" y="213.38" width="20.94" height="10.77" fill="#c4a2ff"/>
<rect x="497.64" y="213.38" width="41.59" height="10.77" fill="#ff0000"/>
<rect x="538.93" y="213.38" width="20.94" height="10.77" fill="#ffc6b2"/>
<rect x="559.58" y="213.38" width="20.94" height="10.77" fill="#7145ff"/>
<rect x="580.22" y="213.38" width="41.59" height="10.77" fill="#0000ff"/>
<rect x="621.51" y="213.38" width="20.94" height="10.77" fill="#e3d0ff"/>
<rect x="642.15" y="213.38" width="20.94" height="10.77" fill="#a074ff"/>
<rect x="456.35" y="223.86" width="20.94" height="10.77" fill="#ff0000"/>
<rect x="477.00" y="223.86" width="20.94" height="10.77" fill="#b38bff"/>
<rect x="497.64" y="223.86" width="20.94" height="10.77" fill="#ff0000"/>
<rect x="518.28" y="223.86" width="20.94" height="10.77" fill="#ff8969"/>
<rect x="538.93" y="223.86" width="20.94" height="10.77" fill="#e3d0ff"/>
<rect x="559.58" y="223.86" width="20.94" height="10.77" fill="#8a5dff"/>
<rect x="580.22" y="223.86" width="20.94" height="10.77" fill="#502bff"/>
<rect x="600.87" y="223.86" width="20.94" height="10.77" fill="#0000ff"/>
<rect x="621.51" y="223.86" width="20.94" height="10.77" fill="#dcc4ff"/>
<rect x="642.15" y="223.86" width="20.94" height="10.77" fill="#bebebe"/>
<rect x="456.35" y="234.33" width="20.94" height="10.77" fill="#ff5b3a"/>
<rect x="477.00" y="234.33" width="20.94" height="10.77" fill="#ffb299"/>
<rect x="497.64" y="234.33" width="20.94" height="10.77" fill="#ff8969"/>
<rect x="518.28" y="234.33" width="20.94" height="10.77" fill="#d4b9ff"/>
<rect x="538.93" y="234.33" width="20.94" height="10.77" fill="#ff0000"/>
<rect x="559.58" y="234.33" width="20.94" height="10.77" fill="#502bff"/>
<rect x="580.22" y="234.33" width="20.94" height="10.77" fill="#0000ff"/>
<rect x="600.87" y="234.33" width="41.59" height="10.77" fill="#bebebe"/>
<rect x="642.15" y="234.33" width="20.94" height="10.77" fill="#a074ff"/>
<rect x="456.35" y="244.80" width="20.94" height="10.77" fill="#ffd9cb"/>
<rect x="477.00" y="244.80" width="20.94" height="10.77" fill="#bc97ff"/>
<rect x="497.64" y="244.80" width="20.94" height="10.77" fill="#ff2913"/>
<rect x="518.28" y="244.80" width="20.94" height="10.77" fill="#ffc6b2"/>
<rect x="538.93" y="244.80" width="20.94" height="10.77" fill="#ff0000"/>
<rect x="559.58" y="244.80" width="20.94" height="10.77" fill="#bebebe"/>
<rect x="580.22" y="244.80" width="20.94" height="10.77" fill="#9569ff"/>
<rect x="600.87" y="244.80" width="20.94" height="10.77" fill="#0000ff"/>
<rect x="621.51" y="244.80" width="20.94" height="10.77" fill="#bebebe"/>
<rect x="642.15" y="244.80" width="20.94" height="10.77" fill="#c4a2ff"/>
<rect x="456.35" y="255.27" width="20.94" height="10.77" fill="#ff5b3a"/>
<rect x="477.00" y="255.27" width="20.94" height="10.77" fill="#ffc6b2"/>
<rect x="497.64" y="255.27" width="20.94" height="10.77" fill="#7145ff"/>
<rect x="518.28" y="255.27" width="20.94" height="10.77" fill="#ff9475"/>
<rect x="538.93" y="255.27" width="20.94" height="10.77" fill="#ff0000"/>
<rect x="559.58" y="255.27" width="20.94" height="10.77" fill="#8a5dff"/>
<rect x="580.22" y="255.27" width="20.94" height="10.77" fill="#502bff"/>
<rect x="600.87" y="255.27" width="20.94" height="10.77" fill="#7145ff"/>
<rect x="621.51" y="255.27" width="20.94" height="10.77" fill="#bebebe"/>
<rect x="642.15" y="255.27" width="20.94" height="10.77" fill="#bc97ff"/>
<rect x="456.35" y="265.75" width="20.94" height="10.77" fill="#ff3e22"/>
<rect x="477.00" y="265.75" width="20.94" height="10.77" fill="#ffd9cb"/>
<rect x="497.64" y="265.75" width="20.94" height="10.77" fill="#ff0000"/>
<rect x="518.28" y="265.75" width="20.94" height="10.77" fill="#ff1e0c"/>
<rect x="538.93" y="265.75" width="20.94" height="10.77" fill="#bebebe"/>
<rect x="559.58" y="265.75" width="20.94" height="10.77" fill="#0000ff"/>
<rect x="580.22" y="265.75" width="20.94" height="10.77" fill="#bc97ff"/>
<rect x="600.87" y="265.75" width="20.94" height="10.77" fill="#b38bff"/>
<rect x="621.51" y="265.75" width="20.94" height="10.77" fill="#bebebe"/>
<rect x="642.15" y="265.75" width="20.94" height="10.77" fill="#0000ff"/>
<rect x="456.35" y="276.22" width="20.94" height="10.77" fill="#ff0000"/>
<rect x="477.00" y="276.22" width="20.94" height="10.77" fill="#ffece5"/>
<rect x="497.64" y="276.22" width="20.94" height="10.77" fill="#ff8969"/>
<rect x="518.28" y="276.22" width="20.94" height="10.77" fill="#ff3e22"/>
<rect x="538.93" y="276.22" width="20.94" height="10.77" fill="#bebebe"/>
<rect x="559.58" y="276.22" width="20.94" height="10.77" fill="#0000ff"/>
<rect x="580.22" y="276.22" width="20.94" height="10.77" fill="#7e52ff"/>
<rect x="600.87" y="276.22" width="20.94" height="10.77" fill="#aa80ff"/>
<rect x="621.51" y="276.22" width="41.59" height="10.77" fill="#bebebe"/>
<rect x="456.35" y="286.69" width="20.94" height="10.77" fill="#ff0000"/>
<rect x="477.00" y="286.69" width="20.94" height="10.77" fill="#b38bff"/>
<rect x="497.64" y="286.69" width="20.94" height="10.77" fill="#ff9475"/>
<rect x="518.28" y="286.69" width="20.94" height="10.77" fill="#bebebe"/>
<rect x="538.93" y="286.69" width="20.94" height="10.77" fill="#ff0000"/>
<rect x="559.58" y="286.69" width="20.94" height="10.77" fill="#0000ff"/>
<rect x="580.22" y="286.69" width="20.94" height="10.77" fill="#ebdcff"/>
<rect x="600.87" y="286.69" width="20.94" height="10.77" fill="#7145ff"/>
<rect x="621.51" y="286.69" width="20.94" height="10.77" fill="#bebebe"/>
<rect x="642.15" y="286.69" width="20.94" height="10.77" fill="#b38bff"/>
<rect x="456.35" y="297.17" width="20.94" height="10.77" fill="#ff0000"/>
<rect x="477.00" y="297.17" width="20.94" height="10.77" fill="#ff7352"/>
<rect x="497.64" y="297.17" width="20.94" height="10.77" fill="#ffece5"/>
<rect x="518.28" y="297.17" width="41.59" height="10.77" fill="#ff0000"/>
<rect x="559.58" y="297.17" width="20.94" height="10.77" fill="#0000ff"/>
<rect x="580.22" y="297.17" width="20.94" height="10.77" fill="#c4a2ff"/>
<rect x="600.87" y="297.17" width="20.94" height="10.77" fill="#0000ff"/>
<rect x="621.51" y="297.17" width="20.94" height="10.77" fill="#bc97ff"/>
<rect x="642.15" y="297.17" width="20.94" height="10.77" fill="#b38bff"/>
<rect x="456.35" y="307.64" width="20.94" height="10.77" fill="#ff0000"/>
<rect x="477.00" y="307.64" width="20.94" height="10.77" fill="#ff7352"/>
<rect x="497.64" y="307.64" width="41.59" height="10.77" fill="#bebebe"/>
<rect x="538.93" y="307.64" width="20.94" height="10.77" fill="#ff0000"/>
<rect x="559.58" y="307.64" width="20.94" height="10.77" fill="#8a5dff"/>
<rect x="580.22" y="307.64" width="20.94" height="10.77" fill="#9569ff"/>
<rect x="600.87" y="307.64" width="20.94" height="10.77" fill="#0000ff"/>
<rect x="621.51" y="307.64" width="20.94" height="10.77" fill="#a074ff"/>
<rect x="642.15" y="307.64" width="20.94" height="10.77" fill="#8a5dff"/>
<rect x="456.35" y="318.11" width="20.94" height="10.77" fill="#ff3e22"/>
<rect x="477.00" y="318.11" width="20.94" height="10.77" fill="#ff8969"/>
<rect x="497.64" y="318.11" width="41.59" height="10.77" fill="#ff0000"/>
<rect x="538.93" y="318.11" width="20.94" height="10.77" fill="#ff3e22"/>
<rect x="559.58" y="318.11" width="20.94" height="10.77" fill="#502bff"/>
<rect x="580.22" y="318.11" width="41.59" height="10.77" fill="#0000ff"/>
<rect x="621.51" y="318.11" width="20.94" height="10.77" fill="#7145ff"/>
<rect x="642.15" y="318.11" width="20.94" height="10.77" fill="#8a5dff"/>
<rect x="456.35" y="328.58" width="20.94" height="10.77" fill="#ffb299"/>
<rect x="477.00" y="328.58" width="20.94" height="10.77" fill="#ff7352"/>
<rect x="497.64" y="328.58" width="20.94" height="10.77" fill="#ffece5"/>
<rect x="518.28" y="328.58" width="41.59" height="10.77" fill="#ff0000"/>
<rect x="559.58" y="328.58" width="20.94" height="10.77" fill="#dcc4ff"/>
<rect x="580.22" y="328.58" width="20.94" height="10.77" fill="#7145ff"/>
<rect x="600.87" y="328.58" width="20.94" height="10.77" fill="#0000ff"/>
<rect x="621.51" y="328.58" width="20.94" height="10.77" fill="#ffffff"/>
<rect x="642.15" y="328.58" width="20.94" height="10.77" fill="#0000ff"/>
<rect x="456.35" y="339.06" width="20.94" height="10.77" fill="#ffbca6"/>
<rect x="477.00" y="339.06" width="20.94" height="10.77" fill="#ffd9cb"/>
<rect x="497.64" y="339.06" width="20.94" height="10.77" fill="#ffcfbf"/>
<rect x="518.28" y="339.06" width="41.59" height="10.77" fill="#ff0000"/>
<rect x="559.58" y="339.06" width="20.94" height="10.77" fill="#8a5dff"/>
<rect x="580.22" y="339.06" width="20.94" height="10.77" fill="#7e52ff"/>
<rect x="600.87" y="339.06" width="20.94" height="10.77" fill="#aa80ff"/>
<rect x="621.51" y="339.06" width="20.94" height="10.77" fill="#bebebe"/>
<rect x="642.15" y="339.06" width="20.94" height="10.77" fill="#0000ff"/>
<rect x="456.35" y="349.53" width="20.94" height="10.77" fill="#ff9e81"/>
<rect x="477.00" y="349.53" width="41.59" height="10.77" fill="#ff0000"/>
<rect x="518.28" y="349.53" width="20.94" height="10.77" fill="#ff9e81"/>
<rect x="538.93" y="349.53" width="20.94" height="10.77" fill="#aa80ff"/>
<rect x="559.58" y="349.53" width="20.94" height="10.77" fill="#502bff"/>
<rect x="580.22" y="349.53" width="20.94" height="10.77" fill="#7145ff"/>
<rect x="600.87" y="349.53" width="20.94" height="10.77" fill="#fff5f2"/>
<rect x="621.51" y="349.53" width="20.94" height="10.77" fill="#0000ff"/>
<rect x="642.15" y="349.53" width="20.94" height="10.77" fill="#8a5dff"/>
<rect x="456.35" y="360.00" width="20.94" height="10.77" fill="#ffd9cb"/>
<rect x="477.00" y="360.00" width="20.94" height="10.77" fill="#ff0000"/>
<rect x="497.64" y="360.00" width="20.94" height="10.77" fill="#ff3e22"/>
<rect x="518.28" y="360.00" width="20.94" height="10.77" fill="#ffffff"/>
<rect x="538.93" y="360.00" width="20.94" height="10.77" fill="#c4a2ff"/>
<rect x="559.58" y="360.00" width="20.94" height="10.77" fill="#0000ff"/>
<rect x="580.22" y="360.00" width="41.59" height="10.77" fill="#7145ff"/>
<rect x="621.51" y="360.00" width="20.94" height="10.77" fill="#bebebe"/>
<rect x="642.15" y="360.00" width="20.94" height="10.77" fill="#f2e7ff"/>
<rect x="456.35" y="370.48" width="20.94" height="10.77" fill="#f2e7ff"/>
<rect x="477.00" y="370.48" width="20.94" height="10.77" fill="#ff0000"/>
<rect x="497.64" y="370.48" width="20.94" height="10.77" fill="#ff3e22"/>
<rect x="518.28" y="370.48" width="20.94" height="10.77" fill="#ffc6b2"/>
<rect x="538.93" y="370.48" width="20.94" height="10.77" fill="#e3d0ff"/>
<rect x="559.58" y="370.48" width="20.94" height="10.77" fill="#7145ff"/>
<rect x="580.22" y="370.48" width="20.94" height="10.77" fill="#b38bff"/>
<rect x="600.87" y="370.48" width="20.94" height="10.77" fill="#9569ff"/>
<rect x="621.51" y="370.48" width="20.94" height="10.77" fill="#aa80ff"/>
<rect x="642.15" y="370.48" width="20.94" height="10.77" fill="#7145ff"/>
<rect x="456.35" y="380.95" width="62.23" height="10.77" fill="#ff0000"/>
<rect x="518.28" y="380.95" width="20.94" height="10.77" fill="#9569ff"/>
<rect x="538.93" y="380.95" width="20.94" height="10.77" fill="#aa80ff"/>
<rect x="559.58" y="380.95" width="20.94" height="10.77" fill="#7145ff"/>
<rect x="580.22" y="380.95" width="20.94" height="10.77" fill="#b38bff"/>
<rect x="600.87" y="380.95" width="41.59" height="10.77" fill="#a074ff"/>
<rect x="642.15" y="380.95" width="20.94" height="10.77" fill="#aa80ff"/>
<rect x="456.35" y="391.42" width="20.94" height="10.77" fill="#c4a2ff"/>
<rect x="477.00" y="391.42" width="41.59" height="10.77" fill="#ff0000"/>
<rect x="518.28" y="391.42" width="20.94" height="10.77" fill="#a074ff"/>
<rect x="538.93" y="391.42" width="20.94" height="10.77" fill="#ff0000"/>
<rect x="559.58" y="391.42" width="20.94" height="10.77" fill="#7145ff"/>
<rect x="580.22" y="391.42" width="20.94" height="10.77" fill="#b38bff"/>
<rect x="600.87" y="391.42" width="20.94" height="10.77" fill="#aa80ff"/>
<rect x="621.51" y="391.42" width="20.94" height="10.77" fill="#e3d0ff"/>
<rect x="642.15" y="391.42" width="20.94" height="10.77" fill="#2a12ff"/>
<rect x="456.35" y="401.89" width="20.94" height="10.77" fill="#dcc4ff"/>
<rect x="477.00" y="401.89" width="20.94" height="10.77" fill="#ff7e5e"/>
<rect x="497.64" y="401.89" width="41.59" height="10.77" fill="#ff0000"/>
<rect x="538.93" y="401.89" width="20.94" height="10.77" fill="#f2e7ff"/>
<rect x="559.58" y="401.89" width="20.94" height="10.77" fill="#0000ff"/>
<rect x="580.22" y="401.89" width="20.94" height="10.77" fill="#b38bff"/>
<rect x="600.87" y="401.89" width="20.94" height="10.77" fill="#7e52ff"/>
<rect x="621.51" y="401.89" width="41.59" height="10.77" fill="#bebebe"/>
<rect x="456.35" y="412.37" width="20.94" height="10.77" fill="#ffbca6"/>
<rect x="477.00" y="412.37" width="20.94" height="10.77" fill="#ff0000"/>
<rect x="497.64" y="412.37" width="20.94" height="10.77" fill="#ff2913"/>
<rect x="518.28" y="412.37" width="20.94" height="10.77" fill="#ff0000"/>
<rect x="538.93" y="412.37" width="20.94" height="10.77" fill="#ffece5"/>
<rect x="559.58" y="412.37" width="20.94" height="10.77" fill="#0000ff"/>
<rect x="580.22" y="412.37" width="20.94" height="10.77" fill="#b38bff"/>
<rect x="600.87" y="412.37" width="20.94" height="10.77" fill="#a074ff"/>
<rect x="621.51" y="412.37" width="20.94" height="10.77" fill="#bebebe"/>
<rect x="642.15" y="412.37" width="20.94" height="10.77" fill="#0000ff"/>
<rect x="456.35" y="422.84" width="20.94" height="10.77" fill="#ffffff"/>
<rect x="477.00" y="422.84" width="20.94" height="10.77" fill="#ff0000"/>
<rect x="497.64" y="422.84" width="20.94" height="10.77" fill="#ffd9cb"/>
<rect x="518.28" y="422.84" width="20.94" height="10.77" fill="#ff0000"/>
<rect x="538.93" y="422.84" width="20.94" height="10.77" fill="#ffb299"/>
<rect x="559.58" y="422.84" width="20.94" height="10.77" fill="#502bff"/>
<rect x="580.22" y="422.84" width="20.94" height="10.77" fill="#e3d0ff"/>
<rect x="600.87" y="422.84" width="41.59" height="10.77" fill="#7145ff"/>
<rect x="642.15" y="422.84" width="20.94" height="10.77" fill="#502bff"/>
<rect x="456.35" y="433.31" width="20.94" height="10.77" fill="#e3d0ff"/>
<rect x="477.00" y="433.31" width="20.94" height="10.77" fill="#ff0000"/>
<rect x="497.64" y="433.31" width="20.94" height="10.77" fill="#ff9e81"/>
<rect x="518.28" y="433.31" width="20.94" height="10.77" fill="#ff0000"/>
<rect x="538.93" y="433.31" width="20.94" height="10.77" fill="#ff9e81"/>
<rect x="559.58" y="433.31" width="20.94" height="10.77" fill="#0000ff"/>
<rect x="580.22" y="433.31" width="20.94" height="10.77" fill="#ff9e81"/>
<rect x="600.87" y="433.31" width="20.94" height="10.77" fill="#0000ff"/>
<rect x="621.51" y="433.31" width="20.94" height="10.77" fill="#7145ff"/>
<rect x="642.15" y="433.31" width="20.94" height="10.77" fill="#0000ff"/>
<rect x="456.35" y="443.79" width="20.94" height="10.77" fill="#bebebe"/>
<rect x="477.00" y="443.79" width="20.94" height="10.77" fill="#ff5b3a"/>
<rect x="497.64" y="443.79" width="20.94" height="10.77" fill="#bebebe"/>
<rect x="518.28" y="443.79" width="20.94" height="10.77" fill="#ff0000"/>
<rect x="538.93" y="443.79" width="20.94" height="10.77" fill="#d4b9ff"/>
<rect x="559.58" y="443.79" width="103.52" height="10.77" fill="#b38bff"/>
<rect x="456.35" y="454.26" width="20.94" height="10.77" fill="#7145ff"/>
<rect x="477.00" y="454.26" width="20.94" height="10.77" fill="#ff0000"/>
<rect x="497.64" y="454.26" width="20.94" height="10.77" fill="#ff9475"/>
<rect x="518.28" y="454.26" width="20.94" height="10.77" fill="#ff0000"/>
<rect x="538.93" y="454.26" width="20.94" height="10.77" fill="#f2e7ff"/>
<rect x="559.58" y="454.26" width="20.94" height="10.77" fill="#7e52ff"/>
<rect x="580.22" y="454.26" width="20.94" height="10.77" fill="#ffffff"/>
<rect x="600.87" y="454.26" width="20.94" height="10.77" fill="#a074ff"/>
<rect x="621.51" y="454.26" width="20.94" height="10.77" fill="#aa80ff"/>
<rect x="642.15" y="454.26" width="20.94" height="10.77" fill="#0000ff"/>
<rect x="456.35" y="464.73" width="20.94" height="10.77" fill="#502bff"/>
<rect x="477.00" y="464.73" width="20.94" height="10.77" fill="#ff4d2e"/>
<rect x="497.64" y="464.73" width="20.94" height="10.77" fill="#ff3219"/>
<rect x="518.28" y="464.73" width="20.94" height="10.77" fill="#ff0000"/>
<rect x="538.93" y="464.73" width="20.94" height="10.77" fill="#ffe2d8"/>
<rect x="559.58" y="464.73" width="20.94" height="10.77" fill="#b38bff"/>
<rect x="580.22" y="464.73" width="20.94" height="10.77" fill="#502bff"/>
<rect x="600.87" y="464.73" width="20.94" height="10.77" fill="#0000ff"/>
<rect x="621.51" y="464.73" width="41.59" height="10.77" fill="#bebebe"/>
<rect x="456.35" y="475.20" width="20.94" height="10.77" fill="#fbf8ff"/>
<rect x="477.00" y="475.20" width="20.94" height="10.77" fill="#ff9475"/>
<rect x="497.64" y="475.20" width="41.59" height="10.77" fill="#ff0000"/>
<rect x="538.93" y="475.20" width="20.94" height="10.77" fill="#ffcfbf"/>
<rect x="559.58" y="475.20" width="62.23" height="10.77" fill="#0000ff"/>
<rect x="621.51" y="475.20" width="20.94" height="10.77" fill="#ffd9cb"/>
<rect x="642.15" y="475.20" width="20.94" height="10.77" fill="#ffffff"/>
<rect x="456.35" y="485.68" width="20.94" height="10.77" fill="#7145ff"/>
<rect x="477.00" y="485.68" width="20.94" height="10.77" fill="#ff3219"/>
<rect x="497.64" y="485.68" width="20.94" height="10.77" fill="#ff3e22"/>
<rect x="518.28" y="485.68" width="20.94" height="10.77" fill="#ff6846"/>
<rect x="538.93" y="485.68" width="20.94" height="10.77" fill="#ff0000"/>
<rect x="559.58" y="485.68" width="20.94" height="10.77" fill="#7e52ff"/>
<rect x="580.22" y="485.68" width="20.94" height="10.77" fill="#0000ff"/>
<rect x="600.87" y="485.68" width="20.94" height="10.77" fill="#381bff"/>
<rect x="621.51" y="485.68" width="41.59" height="10.77" fill="#bebebe"/>
<rect x="456.35" y="496.15" width="20.94" height="10.77" fill="#ffffff"/>
<rect x="477.00" y="496.15" width="20.94" height="10.77" fill="#ffb299"/>
<rect x="497.64" y="496.15" width="20.94" height="10.77" fill="#ff6846"/>
<rect x="518.28" y="496.15" width="20.94" height="10.77" fill="#ff0000"/>
<rect x="538.93" y="496.15" width="20.94" height="10.77" fill="#ff9e81"/>
<rect x="559.58" y="496.15" width="20.94" height="10.77" fill="#7e52ff"/>
<rect x="580.22" y="496.15" width="20.94" height="10.77" fill="#0000ff"/>
<rect x="600.87" y="496.15" width="20.94" height="10.77" fill="#ff5b3a"/>
<rect x="621.51" y="496.15" width="41.59" height="10.77" fill="#0000ff"/>
<rect x="456.35" y="506.62" width="20.94" height="10.77" fill="#ff5b3a"/>
<rect x="477.00" y="506.62" width="20.94" height="10.77" fill="#ff0000"/>
<rect x="497.64" y="506.62" width="20.94" height="10.77" fill="#ffd9cb"/>
<rect x="518.28" y="506.62" width="20.94" height="10.77" fill="#ff3e22"/>
<rect x="538.93" y="506.62" width="20.94" height="10.77" fill="#ff9e81"/>
<rect x="559.58" y="506.62" width="20.94" height="10.77" fill="#0000ff"/>
<rect x="580.22" y="506.62" width="20.94" height="10.77" fill="#fbf8ff"/>
<rect x="600.87" y="506.62" width="20.94" height="10.77" fill="#ffc6b2"/>
<rect x="621.51" y="506.62" width="20.94" height="10.77" fill="#0000ff"/>
<rect x="642.15" y="506.62" width="20.94" height="10.77" fill="#8a5dff"/>
<rect x="456.35" y="517.09" width="20.94" height="10.77" fill="#7145ff"/>
<rect x="477.00" y="517.09" width="20.94" height="10.77" fill="#7e52ff"/>
<rect x="497.64" y="517.09" width="20.94" height="10.77" fill="#bebebe"/>
<rect x="518.28" y="517.09" width="20.94" height="10.77" fill="#381bff"/>
<rect x="538.93" y="517.09" width="20.94" height="10.77" fill="#f2e7ff"/>
<rect x="559.58" y="517.09" width="41.59" height="10.77" fill="#ff0000"/>
<rect x="600.87" y="517.09" width="20.94" height="10.77" fill="#bc97ff"/>
<rect x="621.51" y="517.09" width="20.94" height="10.77" fill="#ffc6b2"/>
<rect x="642.15" y="517.09" width="20.94" height="10.77" fill="#bebebe"/>
<rect x="456.35" y="527.57" width="62.23" height="10.77" fill="#0000ff"/>
<rect x="518.28" y="527.57" width="20.94" height="10.77" fill="#b38bff"/>
<rect x="538.93" y="527.57" width="20.94" height="10.77" fill="#ff0000"/>
<rect x="559.58" y="527.57" width="20.94" height="10.77" fill="#ff5b3a"/>
<rect x="580.22" y="527.57" width="20.94" height="10.77" fill="#ff0000"/>
<rect x="600.87" y="527.57" width="20.94" height="10.77" fill="#ffc6b2"/>
<rect x="621.51" y="527.57" width="20.94" height="10.77" fill="#e3d0ff"/>
<rect x="642.15" y="527.57" width="20.94" height="10.77" fill="#ff0000"/>
<rect x="456.35" y="538.04" width="20.94" height="10.77" fill="#0000ff"/>
<rect x="477.00" y="538.04" width="20.94" height="10.77" fill="#ffc6b2"/>
<rect x="497.64" y="538.04" width="20.94" height="10.77" fill="#6239ff"/>
<rect x="518.28" y="538.04" width="20.94" height="10.77" fill="#fff9f7"/>
<rect x="538.93" y="538.04" width="20.94" height="10.77" fill="#0000ff"/>
<rect x="559.58" y="538.04" width="20.94" height="10.77" fill="#fff9f7"/>
<rect x="580.22" y="538.04" width="20.94" height="10.77" fill="#ff0000"/>
<rect x="600.87" y="538.04" width="20.94" height="10.77" fill="#bebebe"/>
<rect x="621.51" y="538.04" width="20.94" height="10.77" fill="#ff0000"/>
<rect x="642.15" y="538.04" width="20.94" height="10.77" fill="#bebebe"/>
<rect x="456.35" y="548.51" width="20.94" height="10.77" fill="#7145ff"/>
<rect x="477.00" y="548.51" width="20.94" height="10.77" fill="#ffd9cb"/>
<rect x="497.64" y="548.51" width="62.23" height="10.77" fill="#7145ff"/>
<rect x="559.58" y="548.51" width="20.94" height="10.77" fill="#ffb299"/>
<rect x="580.22" y="548.51" width="20.94" height="10.77" fill="#ff0000"/>
<rect x="600.87" y="548.51" width="20.94" height="10.77" fill="#ffa88d"/>
<rect x="621.51" y="548.51" width="20.94" height="10.77" fill="#ff0000"/>
<rect x="642.15" y="548.51" width="20.94" height="10.77" fill="#7145ff"/>
<rect x="456.35" y="558.99" width="20.94" height="10.77" fill="#0000ff"/>
<rect x="477.00" y="558.99" width="20.94" height="10.77" fill="#e3d0ff"/>
<rect x="497.64" y="558.99" width="20.94" height="10.77" fill="#0000ff"/>
<rect x="518.28" y="558.99" width="20.94" height="10.77" fill="#ffe8e0"/>
<rect x="538.93" y="558.99" width="20.94" height="10.77" fill="#e3d0ff"/>
<rect x="559.58" y="558.99" width="20.94" height="10.77" fill="#ff8362"/>
<rect x="580.22" y="558.99" width="20.94" height="10.77" fill="#bebebe"/>
<rect x="600.87" y="558.99" width="41.59" height="10.77" fill="#ff0000"/>
<rect x="642.15" y="558.99" width="20.94" height="10.77" fill="#ffffff"/>
<rect x="456.35" y="569.46" width="20.94" height="10.77" fill="#0000ff"/>
<rect x="477.00" y="569.46" width="20.94" height="10.77" fill="#502bff"/>
<rect x="497.64" y="569.46" width="20.94" height="10.77" fill="#7145ff"/>
<rect x="518.28" y="569.46" width="20.94" height="10.77" fill="#ffe8e0"/>
<rect x="538.93" y="569.46" width="20.94" height="10.77" fill="#8a5dff"/>
<rect x="559.58" y="569.46" width="20.94" height="10.77" fill="#ffc6b2"/>
<rect x="580.22" y="569.46" width="20.94" height="10.77" fill="#ff0000"/>
<rect x="600.87" y="569.46" width="20.94" height="10.77" fill="#ff3e22"/>
<rect x="621.51" y="569.46" width="20.94" height="10.77" fill="#ff7a59"/>
<rect x="642.15" y="569.46" width="20.94" height="10.77" fill="#fff9f7"/>
<rect x="456.35" y="579.93" width="20.94" height="10.77" fill="#0000ff"/>
<rect x="477.00" y="579.93" width="20.94" height="10.77" fill="#b38bff"/>
<rect x="497.64" y="579.93" width="20.94" height="10.77" fill="#794dff"/>
<rect x="518.28" y="579.93" width="41.59" height="10.77" fill="#8a5dff"/>
<rect x="559.58" y="579.93" width="20.94" height="10.77" fill="#ffc0ab"/>
<rect x="580.22" y="579.93" width="20.94" height="10.77" fill="#ff0000"/>
<rect x="600.87" y="579.93" width="20.94" height="10.77" fill="#ff5333"/>
<rect x="621.51" y="579.93" width="20.94" height="10.77" fill="#fff9f7"/>
<rect x="642.15" y="579.93" width="20.94" height="10.77" fill="#ffb8a1"/>
<rect x="456.35" y="590.40" width="20.94" height="10.77" fill="#8a5dff"/>
<rect x="477.00" y="590.40" width="41.59" height="10.77" fill="#9569ff"/>
<rect x="518.28" y="590.40" width="41.59" height="10.77" fill="#8a5dff"/>
<rect x="559.58" y="590.40" width="20.94" height="10.77" fill="#dfc9ff"/>
<rect x="580.22" y="590.40" width="20.94" height="10.77" fill="#ff0000"/>
<rect x="600.87" y="590.40" width="20.94" height="10.77" fill="#ff9e81"/>
<rect x="621.51" y="590.40" width="20.94" height="10.77" fill="#bf9bff"/>
<rect x="642.15" y="590.40" width="20.94" height="10.77" fill="#ff0000"/>
<rect x="456.35" y="600.88" width="20.94" height="10.77" fill="#bebebe"/>
<rect x="477.00" y="600.88" width="20.94" height="10.77" fill="#7145ff"/>
<rect x="497.64" y="600.88" width="20.94" height="10.77" fill="#0000ff"/>
<rect x="518.28" y="600.88" width="20.94" height="10.77" fill="#dfc9ff"/>
<rect x="538.93" y="600.88" width="20.94" height="10.77" fill="#0000ff"/>
<rect x="559.58" y="600.88" width="41.59" height="10.77" fill="#ff0000"/>
<rect x="600.87" y="600.88" width="20.94" height="10.77" fill="#ff7a59"/>
<rect x="621.51" y="600.88" width="20.94" height="10.77" fill="#ff2913"/>
<rect x="642.15" y="600.88" width="20.94" height="10.77" fill="#7145ff"/>
<rect x="456.35" y="611.35" width="20.94" height="10.77" fill="#0000ff"/>
<rect x="477.00" y="611.35" width="20.94" height="10.77" fill="#8a5dff"/>
<rect x="497.64" y="611.35" width="20.94" height="10.77" fill="#502bff"/>
<rect x="518.28" y="611.35" width="20.94" height="10.77" fill="#a074ff"/>
<rect x="538.93" y="611.35" width="20.94" height="10.77" fill="#0000ff"/>
<rect x="559.58" y="611.35" width="20.94" height="10.77" fill="#ff3219"/>
<rect x="580.22" y="611.35" width="20.94" height="10.77" fill="#ff361c"/>
<rect x="600.87" y="611.35" width="41.59" height="10.77" fill="#ff0000"/>
<rect x="642.15" y="611.35" width="20.94" height="10.77" fill="#ffa88d"/>
<rect x="456.35" y="621.82" width="82.88" height="10.77" fill="#7145ff"/>
<rect x="538.93" y="621.82" width="20.94" height="10.77" fill="#ffa88d"/>
<rect x="559.58" y="621.82" width="62.23" height="10.77" fill="#ff0000"/>
<rect x="621.51" y="621.82" width="20.94" height="10.77" fill="#bebebe"/>
<rect x="642.15" y="621.82" width="20.94" height="10.77" fill="#7145ff"/>
<rect x="456.35" y="632.30" width="20.94" height="10.77" fill="#e3d0ff"/>
<rect x="477.00" y="632.30" width="20.94" height="10.77" fill="#0000ff"/>
<rect x="497.64" y="632.30" width="20.94" height="10.77" fill="#8a5dff"/>
<rect x="518.28" y="632.30" width="20.94" height="10.77" fill="#0000ff"/>
<rect x="538.93" y="632.30" width="20.94" height="10.77" fill="#bebebe"/>
<rect x="559.58" y="632.30" width="20.94" height="10.77" fill="#ff4d2e"/>
<rect x="580.22" y="632.30" width="20.94" height="10.77" fill="#ff5333"/>
<rect x="600.87" y="632.30" width="20.94" height="10.77" fill="#ff0000"/>
<rect x="621.51" y="632.30" width="41.59" height="10.77" fill="#bebebe"/>
<rect x="456.35" y="642.77" width="20.94" height="10.77" fill="#8a5dff"/>
<rect x="477.00" y="642.77" width="20.94" height="10.77" fill="#aa80ff"/>
<rect x="497.64" y="642.77" width="20.94" height="10.77" fill="#8a5dff"/>
<rect x="518.28" y="642.77" width="20.94" height="10.77" fill="#7145ff"/>
<rect x="538.93" y="642.77" width="20.94" height="10.77" fill="#7e52ff"/>
<rect x="559.58" y="642.77" width="62.23" height="10.77" fill="#ff0000"/>
<rect x="621.51" y="642.77" width="41.59" height="10.77" fill="#bebebe"/>
<rect x="456.35" y="653.24" width="20.94" height="10.77" fill="#e3d0ff"/>
<rect x="477.00" y="653.24" width="20.94" height="10.77" fill="#7145ff"/>
<rect x="497.64" y="653.24" width="20.94" height="10.77" fill="#7e52ff"/>
<rect x="518.28" y="653.24" width="20.94" height="10.77" fill="#794dff"/>
<rect x="538.93" y="653.24" width="20.94" height="10.77" fill="#8a5dff"/>
<rect x="559.58" y="653.24" width="62.23" height="10.77" fill="#ff0000"/>
<rect x="621.51" y="653.24" width="20.94" height="10.77" fill="#a074ff"/>
<rect x="642.15" y="653.24" width="20.94" height="10.77" fill="#c4a2ff"/>
<rect x="456.35" y="663.71" width="20.94" height="10.77" fill="#d4b9ff"/>
<rect x="477.00" y="663.71" width="20.94" height="10.77" fill="#bf9bff"/>
<rect x="497.64" y="663.71" width="20.94" height="10.77" fill="#e3d0ff"/>
<rect x="518.28" y="663.71" width="20.94" height="10.77" fill="#b38bff"/>
<rect x="538.93" y="663.71" width="20.94" height="10.77" fill="#0000ff"/>
<rect x="559.58" y="663.71" width="20.94" height="10.77" fill="#ff4d2e"/>
<rect x="580.22" y="663.71" width="41.59" height="10.77" fill="#ff0000"/>
<rect x="621.51" y="663.71" width="20.94" height="10.77" fill="#ebdcff"/>
<rect x="642.15" y="663.71" width="20.94" height="10.77" fill="#c4a2ff"/>
<rect x="456.35" y="674.19" width="20.94" height="10.77" fill="#bebebe"/>
<rect x="477.00" y="674.19" width="20.94" height="10.77" fill="#b38bff"/>
<rect x="497.64" y="674.19" width="41.59" height="10.77" fill="#7145ff"/>
<rect x="538.93" y="674.19" width="20.94" height="10.77" fill="#b38bff"/>
<rect x="559.58" y="674.19" width="20.94" height="10.77" fill="#ff0000"/>
<rect x="580.22" y="674.19" width="20.94" height="10.77" fill="#c4a2ff"/>
<rect x="600.87" y="674.19" width="20.94" height="10.77" fill="#ff0000"/>
<rect x="621.51" y="674.19" width="41.59" height="10.77" fill="#bebebe"/>
<rect x="456.35" y="684.66" width="20.94" height="10.77" fill="#bebebe"/>
<rect x="477.00" y="684.66" width="20.94" height="10.77" fill="#7145ff"/>
<rect x="497.64" y="684.66" width="41.59" height="10.77" fill="#0000ff"/>
<rect x="538.93" y="684.66" width="20.94" height="10.77" fill="#f2e7ff"/>
<rect x="559.58" y="684.66" width="20.94" height="10.77" fill="#ff0000"/>
<rect x="580.22" y="684.66" width="20.94" height="10.77" fill="#ffd9cb"/>
<rect x="600.87" y="684.66" width="20.94" height="10.77" fill="#ff0000"/>
<rect x="621.51" y="684.66" width="20.94" height="10.77" fill="#ffffff"/>
<rect x="642.15" y="684.66" width="20.94" height="10.77" fill="#ff5b3a"/>
<rect x="456.35" y="695.13" width="20.94" height="10.77" fill="#c4a2ff"/>
<rect x="477.00" y="695.13" width="41.59" height="10.77" fill="#7145ff"/>
<rect x="518.28" y="695.13" width="20.94" height="10.77" fill="#b38bff"/>
<rect x="538.93" y="695.13" width="20.94" height="10.77" fill="#8a5dff"/>
<rect x="559.58" y="695.13" width="20.94" height="10.77" fill="#d4b9ff"/>
<rect x="580.22" y="695.13" width="20.94" height="10.77" fill="#ff0000"/>
<rect x="600.87" y="695.13" width="20.94" height="10.77" fill="#aa80ff"/>
<rect x="621.51" y="695.13" width="20.94" height="10.77" fill="#ff0000"/>
<rect x="642.15" y="695.13" width="20.94" height="10.77" fill="#ffc6b2"/>
<rect x="456.35" y="705.61" width="20.94" height="10.77" fill="#e3d0ff"/>
<rect x="477.00" y="705.61" width="20.94" height="10.77" fill="#7145ff"/>
<rect x="497.64" y="705.61" width="20.94" height="10.77" fill="#aa80ff"/>
<rect x="518.28" y="705.61" width="20.94" height="10.77" fill="#0000ff"/>
<rect x="538.93" y="705.61" width="20.94" height="10.77" fill="#9569ff"/>
<rect x="559.58" y="705.61" width="20.94" height="10.77" fill="#ff9475"/>
<rect x="580.22" y="705.61" width="20.94" height="10.77" fill="#ffc0ab"/>
<rect x="600.87" y="705.61" width="20.94" height="10.77" fill="#7145ff"/>
<rect x="621.51" y="705.61" width="20.94" height="10.77" fill="#ff3e22"/>
<rect x="642.15" y="705.61" width="20.94" height="10.77" fill="#ff0000"/>
<rect x="456.35" y="716.08" width="20.94" height="10.77" fill="#e3d0ff"/>
<rect x="477.00" y="716.08" width="20.94" height="10.77" fill="#7145ff"/>
<rect x="497.64" y="716.08" width="20.94" height="10.77" fill="#bebebe"/>
<rect x="518.28" y="716.08" width="20.94" height="10.77" fill="#aa80ff"/>
<rect x="538.93" y="716.08" width="20.94" height="10.77" fill="#0000ff"/>
<rect x="559.58" y="716.08" width="20.94" height="10.77" fill="#ffb299"/>
<rect x="580.22" y="716.08" width="20.94" height="10.77" fill="#ff0000"/>
<rect x="600.87" y="716.08" width="20.94" height="10.77" fill="#8a5dff"/>
<rect x="621.51" y="716.08" width="20.94" height="10.77" fill="#bebebe"/>
<rect x="642.15" y="716.08" width="20.94" height="10.77" fill="#ff0000"/>
<rect x="456.35" y="726.55" width="20.94" height="10.77" fill="#aa80ff"/>
<rect x="477.00" y="726.55" width="20.94" height="10.77" fill="#6239ff"/>
<rect x="497.64" y="726.55" width="20.94" height="10.77" fill="#dcc4ff"/>
<rect x="518.28" y="726.55" width="20.94" height="10.77" fill="#0000ff"/>
<rect x="538.93" y="726.55" width="20.94" height="10.77" fill="#aa80ff"/>
<rect x="559.58" y="726.55" width="20.94" height="10.77" fill="#e3d0ff"/>
<rect x="580.22" y="726.55" width="20.94" height="10.77" fill="#ff5b3a"/>
<rect x="600.87" y="726.55" width="20.94" height="10.77" fill="#aa80ff"/>
<rect x="621.51" y="726.55" width="41.59" height="10.77" fill="#ff0000"/>
<rect x="456.35" y="737.02" width="20.94" height="10.77" fill="#6239ff"/>
<rect x="477.00" y="737.02" width="20.94" height="10.77" fill="#0000ff"/>
<rect x="497.64" y="737.02" width="20.94" height="10.77" fill="#e3d0ff"/>
<rect x="518.28" y="737.02" width="20.94" height="10.77" fill="#b38bff"/>
<rect x="538.93" y="737.02" width="20.94" height="10.77" fill="#bc97ff"/>
<rect x="559.58" y="737.02" width="20.94" height="10.77" fill="#ffe8e0"/>
<rect x="580.22" y="737.02" width="20.94" height="10.77" fill="#ff0000"/>
<rect x="600.87" y="737.02" width="20.94" height="10.77" fill="#6239ff"/>
<rect x="621.51" y="737.02" width="41.59" height="10.77" fill="#ff0000"/>
<rect x="456.35" y="747.50" width="20.94" height="10.77" fill="#fff9f7"/>
<rect x="477.00" y="747.50" width="20.94" height="10.77" fill="#0000ff"/>
<rect x="497.64" y="747.50" width="20.94" height="10.77" fill="#e3d0ff"/>
<rect x="518.28" y="747.50" width="20.94" height="10.77" fill="#8a5dff"/>
<rect x="538.93" y="747.50" width="20.94" height="10.77" fill="#0000ff"/>
<rect x="559.58" y="747.50" width="20.94" height="10.77" fill="#9569ff"/>
<rect x="580.22" y="747.50" width="20.94" height="10.77" fill="#ff0000"/>
<rect x="600.87" y="747.50" width="20.94" height="10.77" fill="#c4a2ff"/>
<rect x="621.51" y="747.50" width="41.59" height="10.77" fill="#ff0000"/>
<rect x="456.35" y="757.97" width="20.94" height="10.77" fill="#f2e7ff"/>
<rect x="477.00" y="757.97" width="20.94" height="10.77" fill="#0000ff"/>
<rect x="497.64" y="757.97" width="20.94" height="10.77" fill="#7145ff"/>
<rect x="518.28" y="757.97" width="20.94" height="10.77" fill="#d4b9ff"/>
<rect x="538.93" y="757.97" width="20.94" height="10.77" fill="#7145ff"/>
<rect x="559.58" y="757.97" width="20.94" height="10.77" fill="#ffe8e0"/>
<rect x="580.22" y="757.97" width="20.94" height="10.77" fill="#ffb8a1"/>
<rect x="600.87" y="757.97" width="20.94" height="10.77" fill="#7145ff"/>
<rect x="621.51" y="757.97" width="41.59" height="10.77" fill="#ff0000"/>
<rect x="456.35" y="768.44" width="20.94" height="10.77" fill="#f2e7ff"/>
<rect x="477.00" y="768.44" width="20.94" height="10.77" fill="#0000ff"/>
<rect x="497.64" y="768.44" width="20.94" height="10.77" fill="#7145ff"/>
<rect x="518.28" y="768.44" width="20.94" height="10.77" fill="#b38bff"/>
<rect x="538.93" y="768.44" width="20.94" height="10.77" fill="#6239ff"/>
<rect x="559.58" y="768.44" width="20.94" height="10.77" fill="#f8f3ff"/>
<rect x="580.22" y="768.44" width="20.94" height="10.77" fill="#ffd3c4"/>
<rect x="600.87" y="768.44" width="20.94" height="10.77" fill="#ffe2d8"/>
<rect x="621.51" y="768.44" width="41.59" height="10.77" fill="#ff0000"/>
<rect x="456.35" y="778.91" width="20.94" height="10.77" fill="#ebdcff"/>
<rect x="477.00" y="778.91" width="20.94" height="10.77" fill="#0000ff"/>
<rect x="497.64" y="778.91" width="20.94" height="10.77" fill="#502bff"/>
<rect x="518.28" y="778.91" width="20.94" height="10.77" fill="#c4a2ff"/>
<rect x="538.93" y="778.91" width="20.94" height="10.77" fill="#0000ff"/>
<rect x="559.58" y="778.91" width="20.94" height="10.77" fill="#ffffff"/>
<rect x="580.22" y="778.91" width="20.94" height="10.77" fill="#ffc6b2"/>
<rect x="600.87" y="778.91" width="20.94" height="10.77" fill="#ffc9b7"/>
<rect x="621.51" y="778.91" width="41.59" height="10.77" fill="#ff0000"/>
<rect x="456.35" y="789.39" width="20.94" height="10.77" fill="#b38bff"/>
<rect x="477.00" y="789.39" width="20.94" height="10.77" fill="#7145ff"/>
<rect x="497.64" y="789.39" width="41.59" height="10.77" fill="#8a5dff"/>
<rect x="538.93" y="789.39" width="20.94" height="10.77" fill="#0000ff"/>
<rect x="559.58" y="789.39" width="20.94" height="10.77" fill="#bc97ff"/>
<rect x="580.22" y="789.39" width="41.59" height="10.77" fill="#ff0000"/>
<rect x="621.51" y="789.39" width="20.94" height="10.77" fill="#ff3219"/>
<rect x="642.15" y="789.39" width="20.94" height="10.77" fill="#ff5b3a"/>
<rect x="456.35" y="799.86" width="20.94" height="10.77" fill="#8a5dff"/>
<rect x="477.00" y="799.86" width="20.94" height="10.77" fill="#aa80ff"/>
<rect x="497.64" y="799.86" width="20.94" height="10.77" fill="#7e52ff"/>
<rect x="518.28" y="799.86" width="20.94" height="10.77" fill="#7145ff"/>
<rect x="538.93" y="799.86" width="20.94" height="10.77" fill="#381bff"/>
<rect x="559.58" y="799.86" width="20.94" height="10.77" fill="#bc97ff"/>
<rect x="580.22" y="799.86" width="20.94" height="10.77" fill="#ff0000"/>
<rect x="600.87" y="799.86" width="20.94" height="10.77" fill="#ffa88d"/>
<rect x="621.51" y="799.86" width="20.94" height="10.77" fill="#ff0000"/>
<rect x="642.15" y="799.86" width="20.94" height="10.77" fill="#ff8362"/>
<rect x="456.35" y="810.33" width="20.94" height="10.77" fill="#502bff"/>
<rect x="477.00" y="810.33" width="20.94" height="10.77" fill="#7145ff"/>
<rect x="497.64" y="810.33" width="20.94" height="10.77" fill="#8a5dff"/>
<rect x="518.28" y="810.33" width="20.94" height="10.77" fill="#b38bff"/>
<rect x="538.93" y="810.33" width="20.94" height="10.77" fill="#381bff"/>
<rect x="559.58" y="810.33" width="20.94" height="10.77" fill="#ffffff"/>
<rect x="580.22" y="810.33" width="20.94" height="10.77" fill="#ff0000"/>
<rect x="600.87" y="810.33" width="20.94" height="10.77" fill="#ffc0ab"/>
<rect x="621.51" y="810.33" width="20.94" height="10.77" fill="#ff0000"/>
<rect x="642.15" y="810.33" width="20.94" height="10.77" fill="#ffb8a1"/>
<rect x="456.35" y="820.81" width="20.94" height="10.77" fill="#502bff"/>
<rect x="477.00" y="820.81" width="20.94" height="10.77" fill="#0000ff"/>
<rect x="497.64" y="820.81" width="20.94" height="10.77" fill="#8a5dff"/>
<rect x="518.28" y="820.81" width="20.94" height="10.77" fill="#a074ff"/>
<rect x="538.93" y="820.81" width="20.94" height="10.77" fill="#aa80ff"/>
<rect x="559.58" y="820.81" width="20.94" height="10.77" fill="#ffffff"/>
<rect x="580.22" y="820.81" width="20.94" height="10.77" fill="#ff8362"/>
<rect x="600.87" y="820.81" width="20.94" height="10.77" fill="#ff6c4b"/>
<rect x="621.51" y="820.81" width="20.94" height="10.77" fill="#ff0000"/>
<rect x="642.15" y="820.81" width="20.94" height="10.77" fill="#ff5b3a"/>
<rect x="456.35" y="831.28" width="20.94" height="10.77" fill="#7145ff"/>
<rect x="477.00" y="831.28" width="20.94" height="10.77" fill="#0000ff"/>
<rect x="497.64" y="831.28" width="20.94" height="10.77" fill="#b38bff"/>
<rect x="518.28" y="831.28" width="20.94" height="10.77" fill="#ebdcff"/>
<rect x="538.93" y="831.28" width="20.94" height="10.77" fill="#0000ff"/>
<rect x="559.58" y="831.28" width="20.94" height="10.77" fill="#ffd9cb"/>
<rect x="580.22" y="831.28" width="20.94" height="10.77" fill="#ffa88d"/>
<rect x="600.87" y="831.28" width="41.59" height="10.77" fill="#ff0000"/>
<rect x="642.15" y="831.28" width="20.94" height="10.77" fill="#ffd9cb"/>
<rect x="456.35" y="841.75" width="20.94" height="10.77" fill="#0000ff"/>
<rect x="477.00" y="841.75" width="20.94" height="10.77" fill="#bc97ff"/>
<rect x="497.64" y="841.75" width="20.94" height="10.77" fill="#f2e7ff"/>
<rect x="518.28" y="841.75" width="20.94" height="10.77" fill="#b38bff"/>
<rect x="538.93" y="841.75" width="20.94" height="10.77" fill="#8a5dff"/>
<rect x="559.58" y="841.75" width="20.94" height="10.77" fill="#f2e7ff"/>
<rect x="580.22" y="841.75" width="20.94" height="10.77" fill="#ffc6b2"/>
<rect x="600.87" y="841.75" width="20.94" height="10.77" fill="#fff5f2"/>
<rect x="621.51" y="841.75" width="20.94" height="10.77" fill="#ff0000"/>
<rect x="642.15" y="841.75" width="20.94" height="10.77" fill="#ff7a59"/>
<rect x="456.35" y="852.22" width="20.94" height="10.77" fill="#a074ff"/>
<rect x="477.00" y="852.22" width="20.94" height="10.77" fill="#bc97ff"/>
<rect x="497.64" y="852.22" width="20.94" height="10.77" fill="#2a12ff"/>
<rect x="518.28" y="852.22" width="20.94" height="10.77" fill="#a074ff"/>
<rect x="538.93" y="852.22" width="41.59" height="10.77" fill="#e3d0ff"/>
<rect x="580.22" y="852.22" width="20.94" height="10.77" fill="#ebdcff"/>
<rect x="600.87" y="852.22" width="20.94" height="10.77" fill="#ffcfbf"/>
<rect x="621.51" y="852.22" width="20.94" height="10.77" fill="#ff0000"/>
<rect x="642.15" y="852.22" width="20.94" height="10.77" fill="#ff5333"/>
<rect x="456.35" y="862.70" width="20.94" height="10.77" fill="#b38bff"/>
<rect x="477.00" y="862.70" width="20.94" height="10.77" fill="#8a5dff"/>
<rect x="497.64" y="862.70" width="20.94" height="10.77" fill="#6239ff"/>
<rect x="518.28" y="862.70" width="20.94" height="10.77" fill="#8a5dff"/>
<rect x="538.93" y="862.70" width="20.94" height="10.77" fill="#d4b9ff"/>
<rect x="559.58" y="862.70" width="20.94" height="10.77" fill="#ffd9cb"/>
<rect x="580.22" y="862.70" width="20.94" height="10.77" fill="#b38bff"/>
<rect x="600.87" y="862.70" width="20.94" height="10.77" fill="#fff5f2"/>
<rect x="621.51" y="862.70" width="20.94" height="10.77" fill="#ff0000"/>
<rect x="642.15" y="862.70" width="20.94" height="10.77" fill="#ff361c"/>
<rect x="456.35" y="873.17" width="20.94" height="10.77" fill="#b38bff"/>
<rect x="477.00" y="873.17" width="20.94" height="10.77" fill="#8a5dff"/>
<rect x="497.64" y="873.17" width="20.94" height="10.77" fill="#794dff"/>
<rect x="518.28" y="873.17" width="20.94" height="10.77" fill="#8a5dff"/>
<rect x="538.93" y="873.17" width="20.94" height="10.77" fill="#b38bff"/>
<rect x="559.58" y="873.17" width="20.94" height="10.77" fill="#ffe2d8"/>
<rect x="580.22" y="873.17" width="20.94" height="10.77" fill="#e3d0ff"/>
<rect x="600.87" y="873.17" width="20.94" height="10.77" fill="#ffe8e0"/>
<rect x="621.51" y="873.17" width="20.94" height="10.77" fill="#ff0000"/>
<rect x="642.15" y="873.17" width="20.94" height="10.77" fill="#ff7a59"/>
<rect x="456.35" y="883.64" width="41.59" height="10.77" fill="#8a5dff"/>
<rect x="497.64" y="883.64" width="20.94" height="10.77" fill="#9569ff"/>
<rect x="518.28" y="883.64" width="20.94" height="10.77" fill="#b38bff"/>
<rect x="538.93" y="883.64" width="20.94" height="10.77" fill="#aa80ff"/>
<rect x="559.58" y="883.64" width="20.94" height="10.77" fill="#f2e7ff"/>
<rect x="580.22" y="883.64" width="20.94" height="10.77" fill="#ffffff"/>
<rect x="600.87" y="883.64" width="20.94" height="10.77" fill="#ffece5"/>
<rect x="621.51" y="883.64" width="20.94" height="10.77" fill="#ff0000"/>
<rect x="642.15" y="883.64" width="20.94" height="10.77" fill="#ff8362"/>
<rect x="456.35" y="894.12" width="20.94" height="10.77" fill="#aa80ff"/>
<rect x="477.00" y="894.12" width="20.94" height="10.77" fill="#0000ff"/>
<rect x="497.64" y="894.12" width="20.94" height="10.77" fill="#8a5dff"/>
<rect x="518.28" y="894.12" width="20.94" height="10.77" fill="#aa80ff"/>
<rect x="538.93" y="894.12" width="20.94" height="10.77" fill="#e3d0ff"/>
<rect x="559.58" y="894.12" width="20.94" height="10.77" fill="#ffcfbf"/>
<rect x="580.22" y="894.12" width="20.94" height="10.77" fill="#ffd9cb"/>
<rect x="600.87" y="894.12" width="20.94" height="10.77" fill="#d4b9ff"/>
<rect x="621.51" y="894.12" width="20.94" height="10.77" fill="#ff0000"/>
<rect x="642.15" y="894.12" width="20.94" height="10.77" fill="#ffa88d"/>
<rect x="456.35" y="904.59" width="20.94" height="10.77" fill="#a074ff"/>
<rect x="477.00" y="904.59" width="20.94" height="10.77" fill="#6239ff"/>
<rect x="497.64" y="904.59" width="20.94" height="10.77" fill="#8a5dff"/>
<rect x="518.28" y="904.59" width="20.94" height="10.77" fill="#a074ff"/>
<rect x="538.93" y="904.59" width="20.94" height="10.77" fill="#6239ff"/>
<rect x="559.58" y="904.59" width="20.94" height="10.77" fill="#ffa88d"/>
<rect x="580.22" y="904.59" width="20.94" height="10.77" fill="#ff7a59"/>
<rect x="600.87" y="904.59" width="20.94" height="10.77" fill="#dcc4ff"/>
<rect x="621.51" y="904.59" width="20.94" height="10.77" fill="#ff0000"/>
<rect x="642.15" y="904.59" width="20.94" height="10.77" fill="#ff8362"/>
<rect x="456.35" y="915.06" width="20.94" height="10.77" fill="#0000ff"/>
<rect x="477.00" y="915.06" width="20.94" height="10.77" fill="#b38bff"/>
<rect x="497.64" y="915.06" width="20.94" height="10.77" fill="#0000ff"/>
<rect x="518.28" y="915.06" width="41.59" height="10.77" fill="#a074ff"/>
<rect x="559.58" y="915.06" width="20.94" height="10.77" fill="#ff6c4b"/>
<rect x="580.22" y="915.06" width="20.94" height="10.77" fill="#f2e7ff"/>
<rect x="600.87" y="915.06" width="20.94" height="10.77" fill="#ffc6b2"/>
<rect x="621.51" y="915.06" width="20.94" height="10.77" fill="#ff0000"/>
<rect x="642.15" y="915.06" width="20.94" height="10.77" fill="#ff5b3a"/>
<rect x="456.35" y="925.53" width="20.94" height="10.77" fill="#6239ff"/>
<rect x="477.00" y="925.53" width="20.94" height="10.77" fill="#8a5dff"/>
<rect x="497.64" y="925.53" width="20.94" height="10.77" fill="#7e52ff"/>
<rect x="518.28" y="925.53" width="20.94" height="10.77" fill="#aa80ff"/>
<rect x="538.93" y="925.53" width="20.94" height="10.77" fill="#b38bff"/>
<rect x="559.58" y="925.53" width="20.94" height="10.77" fill="#d4b9ff"/>
<rect x="580.22" y="925.53" width="20.94" height="10.77" fill="#ffc6b2"/>
<rect x="600.87" y="925.53" width="20.94" height="10.77" fill="#dcc4ff"/>
<rect x="621.51" y="925.53" width="20.94" height="10.77" fill="#ff0000"/>
<rect x="642.15" y="925.53" width="20.94" height="10.77" fill="#ff1e0c"/>
<rect x="456.35" y="936.01" width="20.94" height="10.77" fill="#c4a2ff"/>
<rect x="477.00" y="936.01" width="20.94" height="10.77" fill="#8a5dff"/>
<rect x="497.64" y="936.01" width="20.94" height="10.77" fill="#6239ff"/>
<rect x="518.28" y="936.01" width="20.94" height="10.77" fill="#8a5dff"/>
<rect x="538.93" y="936.01" width="20.94" height="10.77" fill="#b38bff"/>
<rect x="559.58" y="936.01" width="20.94" height="10.77" fill="#d4b9ff"/>
<rect x="580.22" y="936.01" width="20.94" height="10.77" fill="#ff3219"/>
<rect x="600.87" y="936.01" width="20.94" height="10.77" fill="#9569ff"/>
<rect x="621.51" y="936.01" width="20.94" height="10.77" fill="#ff0000"/>
<rect x="642.15" y="936.01" width="20.94" height="10.77" fill="#ff3219"/>
<rect x="456.35" y="946.48" width="20.94" height="10.77" fill="#0000ff"/>
<rect x="477.00" y="946.48" width="20.94" height="10.77" fill="#6239ff"/>
<rect x="497.64" y="946.48" width="20.94" height="10.77" fill="#7145ff"/>
<rect x="518.28" y="946.48" width="20.94" height="10.77" fill="#b38bff"/>
<rect x="538.93" y="946.48" width="20.94" height="10.77" fill="#f2e7ff"/>
<rect x="559.58" y="946.48" width="20.94" height="10.77" fill="#d4b9ff"/>
<rect x="580.22" y="946.48" width="20.94" height="10.77" fill="#ff0000"/>
<rect x="600.87" y="946.48" width="20.94" height="10.77" fill="#c4a2ff"/>
<rect x="621.51" y="946.48" width="20.94" height="10.77" fill="#ff0000"/>
<rect x="642.15" y="946.48" width="20.94" height="10.77" fill="#ff3219"/>
<rect x="456.35" y="956.95" width="20.94" height="10.77" fill="#502bff"/>
<rect x="477.00" y="956.95" width="20.94" height="10.77" fill="#7145ff"/>
<rect x="497.64" y="956.95" width="20.94" height="10.77" fill="#0000ff"/>
<rect x="518.28" y="956.95" width="20.94" height="10.77" fill="#b38bff"/>
<rect x="538.93" y="956.95" width="20.94" height="10.77" fill="#bc97ff"/>
<rect x="559.58" y="956.95" width="20.94" height="10.77" fill="#ffffff"/>
<rect x="580.22" y="956.95" width="20.94" height="10.77" fill="#ff6c4b"/>
<rect x="600.87" y="956.95" width="20.94" height="10.77" fill="#ebdcff"/>
<rect x="621.51" y="956.95" width="20.94" height="10.77" fill="#ff0000"/>
<rect x="642.15" y="956.95" width="20.94" height="10.77" fill="#ff1e0c"/>
<rect x="456.35" y="967.43" width="20.94" height="10.77" fill="#0000ff"/>
<rect x="477.00" y="967.43" width="20.94" height="10.77" fill="#9569ff"/>
<rect x="497.64" y="967.43" width="20.94" height="10.77" fill="#8a5dff"/>
<rect x="518.28" y="967.43" width="20.94" height="10.77" fill="#aa80ff"/>
<rect x="538.93" y="967.43" width="20.94" height="10.77" fill="#bc97ff"/>
<rect x="559.58" y="967.43" width="20.94" height="10.77" fill="#dcc4ff"/>
<rect x="580.22" y="967.43" width="20.94" height="10.77" fill="#ff5333"/>
<rect x="600.87" y="967.43" width="20.94" height="10.77" fill="#ffc6b2"/>
<rect x="621.51" y="967.43" width="20.94" height="10.77" fill="#ff0000"/>
<rect x="642.15" y="967.43" width="20.94" height="10.77" fill="#ff5b3a"/>
<rect x="456.35" y="977.90" width="20.94" height="10.77" fill="#0000ff"/>
<rect x="477.00" y="977.90" width="20.94" height="10.77" fill="#7145ff"/>
<rect x="497.64" y="977.90" width="20.94" height="10.77" fill="#d4b9ff"/>
<rect x="518.28" y="977.90" width="20.94" height="10.77" fill="#b38bff"/>
<rect x="538.93" y="977.90" width="20.94" height="10.77" fill="#c4a2ff"/>
<rect x="559.58" y="977.90" width="20.94" height="10.77" fill="#f2e7ff"/>
<rect x="580.22" y="977.90" width="20.94" height="10.77" fill="#ff7a59"/>
<rect x="600.87" y="977.90" width="20.94" height="10.77" fill="#e3d0ff"/>
<rect x="621.51" y="977.90" width="41.59" height="10.77" fill="#ff0000"/>
<rect x="456.35" y="988.37" width="41.59" height="10.77" fill="#0000ff"/>
<rect x="497.64" y="988.37" width="20.94" height="10.77" fill="#c4a2ff"/>
<rect x="518.28" y="988.37" width="20.94" height="10.77" fill="#ccadff"/>
<rect x="538.93" y="988.37" width="20.94" height="10.77" fill="#ffe6dd"/>
<rect x="559.58" y="988.37" width="20.94" height="10.77" fill="#ffece5"/>
<rect x="580.22" y="988.37" width="20.94" height="10.77" fill="#ff8362"/>
<rect x="600.87" y="988.37" width="20.94" height="10.77" fill="#ffffff"/>
<rect x="621.51" y="988.37" width="20.94" height="10.77" fill="#ff0000"/>
<rect x="642.15" y="988.37" width="20.94" height="10.77" fill="#ffc6b2"/>
<rect x="456.35" y="998.84" width="20.94" height="10.77" fill="#b38bff"/>
<rect x="477.00" y="998.84" width="20.94" height="10.77" fill="#0000ff"/>
<rect x="497.64" y="998.84" width="20.94" height="10.77" fill="#ccadff"/>
<rect x="518.28" y="998.84" width="20.94" height="10.77" fill="#8a5dff"/>
<rect x="538.93" y="998.84" width="20.94" height="10.77" fill="#aa80ff"/>
<rect x="559.58" y="998.84" width="20.94" height="10.77" fill="#ff0000"/>
<rect x="580.22" y="998.84" width="20.94" height="10.77" fill="#c4a2ff"/>
<rect x="600.87" y="998.84" width="20.94" height="10.77" fill="#d4b9ff"/>
<rect x="621.51" y="998.84" width="20.94" height="10.77" fill="#ff0000"/>
<rect x="642.15" y="998.84" width="20.94" height="10.77" fill="#ff5b3a"/>
<rect x="456.35" y="1009.32" width="20.94" height="10.77" fill="#502bff"/>
<rect x="477.00" y="1009.32" width="20.94" height="10.77" fill="#bebebe"/>
<rect x="497.64" y="1009.32" width="20.94" height="10.77" fill="#6239ff"/>
<rect x="518.28" y="1009.32" width="20.94" height="10.77" fill="#b38bff"/>
<rect x="538.93" y="1009.32" width="20.94" height="10.77" fill="#c4a2ff"/>
<rect x="559.58" y="1009.32" width="20.94" height="10.77" fill="#ff0000"/>
<rect x="580.22" y="1009.32" width="20.94" height="10.77" fill="#bc97ff"/>
<rect x="600.87" y="1009.32" width="20.94" height="10.77" fill="#fff5f2"/>
<rect x="621.51" y="1009.32" width="20.94" height="10.77" fill="#bebebe"/>
<rect x="642.15" y="1009.32" width="20.94" height="10.77" fill="#ff0000"/>
<rect x="456.35" y="1019.79" width="20.94" height="10.77" fill="#502bff"/>
<rect x="477.00" y="1019.79" width="20.94" height="10.77" fill="#0000ff"/>
<rect x="497.64" y="1019.79" width="20.94" height="10.77" fill="#b38bff"/>
<rect x="518.28" y="1019.79" width="20.94" height="10.77" fill="#bc97ff"/>
<rect x="538.93" y="1019.79" width="20.94" height="10.77" fill="#d4b9ff"/>
<rect x="559.58" y="1019.79" width="20.94" height="10.77" fill="#ff0000"/>
<rect x="580.22" y="1019.79" width="20.94" height="10.77" fill="#8a5dff"/>
<rect x="600.87" y="1019.79" width="20.94" height="10.77" fill="#f2e7ff"/>
<rect x="621.51" y="1019.79" width="20.94" height="10.77" fill="#ff0000"/>
<rect x="642.15" y="1019.79" width="20.94" height="10.77" fill="#ff6c4b"/>
<rect x="456.35" y="1030.26" width="20.94" height="10.77" fill="#6239ff"/>
<rect x="477.00" y="1030.26" width="20.94" height="10.77" fill="#0000ff"/>
<rect x="497.64" y="1030.26" width="20.94" height="10.77" fill="#b38bff"/>
<rect x="518.28" y="1030.26" width="20.94" height="10.77" fill="#dcc4ff"/>
<rect x="538.93" y="1030.26" width="20.94" height="10.77" fill="#bebebe"/>
<rect x="559.58" y="1030.26" width="20.94" height="10.77" fill="#ff0000"/>
<rect x="580.22" y="1030.26" width="20.94" height="10.77" fill="#bebebe"/>
<rect x="600.87" y="1030.26" width="20.94" height="10.77" fill="#fff9f7"/>
<rect x="621.51" y="1030.26" width="20.94" height="10.77" fill="#ff0000"/>
<rect x="642.15" y="1030.26" width="20.94" height="10.77" fill="#bebebe"/>
<rect x="456.35" y="1040.74" width="20.94" height="10.77" fill="#0000ff"/>
<rect x="477.00" y="1040.74" width="20.94" height="10.77" fill="#e3d0ff"/>
<rect x="497.64" y="1040.74" width="20.94" height="10.77" fill="#8a5dff"/>
<rect x="518.28" y="1040.74" width="20.94" height="10.77" fill="#0000ff"/>
<rect x="538.93" y="1040.74" width="20.94" height="10.77" fill="#f2e7ff"/>
<rect x="559.58" y="1040.74" width="20.94" height="10.77" fill="#fff5f2"/>
<rect x="580.22" y="1040.74" width="20.94" height="10.77" fill="#e3d0ff"/>
<rect x="600.87" y="1040.74" width="20.94" height="10.77" fill="#ffffff"/>
<rect x="621.51" y="1040.74" width="41.59" height="10.77" fill="#ff0000"/>
<rect x="456.35" y="1051.21" width="62.23" height="10.77" fill="#794dff"/>
<rect x="518.28" y="1051.21" width="20.94" height="10.77" fill="#7145ff"/>
<rect x="538.93" y="1051.21" width="20.94" height="10.77" fill="#8a5dff"/>
<rect x="559.58" y="1051.21" width="20.94" height="10.77" fill="#ffd9cb"/>
<rect x="580.22" y="1051.21" width="20.94" height="10.77" fill="#e3d0ff"/>
<rect x="600.87" y="1051.21" width="20.94" height="10.77" fill="#ff8969"/>
<rect x="621.51" y="1051.21" width="41.59" height="10.77" fill="#ff0000"/>
<rect x="456.35" y="1061.68" width="41.59" height="10.77" fill="#6239ff"/>
<rect x="497.64" y="1061.68" width="20.94" height="10.77" fill="#7145ff"/>
<rect x="518.28" y="1061.68" width="20.94" height="10.77" fill="#6239ff"/>
<rect x="538.93" y="1061.68" width="20.94" height="10.77" fill="#ffd9cb"/>
<rect x="559.58" y="1061.68" width="20.94" height="10.77" fill="#ffe8e0"/>
<rect x="580.22" y="1061.68" width="20.94" height="10.77" fill="#9569ff"/>
<rect x="600.87" y="1061.68" width="20.94" height="10.77" fill="#ff5b3a"/>
<rect x="621.51" y="1061.68" width="41.59" height="10.77" fill="#ff0000"/>
<rect x="456.35" y="1072.15" width="20.94" height="10.77" fill="#0000ff"/>
<rect x="477.00" y="1072.15" width="20.94" height="10.77" fill="#c4a2ff"/>
<rect x="497.64" y="1072.15" width="20.94" height="10.77" fill="#bc97ff"/>
<rect x="518.28" y="1072.15" width="20.94" height="10.77" fill="#aa80ff"/>
<rect x="538.93" y="1072.15" width="20.94" height="10.77" fill="#502bff"/>
<rect x="559.58" y="1072.15" width="20.94" height="10.77" fill="#ff3219"/>
<rect x="580.22" y="1072.15" width="20.94" height="10.77" fill="#b38bff"/>
<rect x="600.87" y="1072.15" width="20.94" height="10.77" fill="#ebdcff"/>
<rect x="621.51" y="1072.15" width="20.94" height="10.77" fill="#ff9475"/>
<rect x="642.15" y="1072.15" width="20.94" height="10.77" fill="#ff0000"/>
<rect x="456.35" y="1082.63" width="20.94" height="10.77" fill="#6239ff"/>
<rect x="477.00" y="1082.63" width="20.94" height="10.77" fill="#0000ff"/>
<rect x="497.64" y="1082.63" width="20.94" height="10.77" fill="#d4b9ff"/>
<rect x="518.28" y="1082.63" width="20.94" height="10.77" fill="#c4a2ff"/>
<rect x="538.93" y="1082.63" width="20.94" height="10.77" fill="#794dff"/>
<rect x="559.58" y="1082.63" width="20.94" height="10.77" fill="#ff9475"/>
<rect x="580.22" y="1082.63" width="20.94" height="10.77" fill="#b38bff"/>
<rect x="600.87" y="1082.63" width="20.94" height="10.77" fill="#ffb299"/>
<rect x="621.51" y="1082.63" width="20.94" height="10.77" fill="#ffc9b7"/>
<rect x="642.15" y="1082.63" width="20.94" height="10.77" fill="#ff0000"/>
<rect x="456.35" y="1093.10" width="20.94" height="10.77" fill="#794dff"/>
<rect x="477.00" y="1093.10" width="20.94" height="10.77" fill="#502bff"/>
<rect x="497.64" y="1093.10" width="20.94" height="10.77" fill="#ffffff"/>
<rect x="518.28" y="1093.10" width="20.94" height="10.77" fill="#b38bff"/>
<rect x="538.93" y="1093.10" width="20.94" height="10.77" fill="#2a12ff"/>
<rect x="559.58" y="1093.10" width="20.94" height="10.77" fill="#ffd9cb"/>
<rect x="580.22" y="1093.10" width="20.94" height="10.77" fill="#b38bff"/>
<rect x="600.87" y="1093.10" width="20.94" height="10.77" fill="#ff9475"/>
<rect x="621.51" y="1093.10" width="20.94" height="10.77" fill="#ffb8a1"/>
<rect x="642.15" y="1093.10" width="20.94" height="10.77" fill="#ff0000"/>
<rect x="456.35" y="1103.57" width="20.94" height="10.77" fill="#7145ff"/>
<rect x="477.00" y="1103.57" width="20.94" height="10.77" fill="#9569ff"/>
<rect x="497.64" y="1103.57" width="20.94" height="10.77" fill="#bc97ff"/>
<rect x="518.28" y="1103.57" width="20.94" height="10.77" fill="#8a5dff"/>
<rect x="538.93" y="1103.57" width="20.94" height="10.77" fill="#aa80ff"/>
<rect x="559.58" y="1103.57" width="20.94" height="10.77" fill="#ff2913"/>
<rect x="580.22" y="1103.57" width="20.94" height="10.77" fill="#7145ff"/>
<rect x="600.87" y="1103.57" width="20.94" height="10.77" fill="#ffa88d"/>
<rect x="621.51" y="1103.57" width="20.94" height="10.77" fill="#ffe8e0"/>
<rect x="642.15" y="1103.57" width="20.94" height="10.77" fill="#ff0000"/>
<rect x="456.35" y="1114.04" width="20.94" height="10.77" fill="#9569ff"/>
<rect x="477.00" y="1114.04" width="20.94" height="10.77" fill="#7145ff"/>
<rect x="497.64" y="1114.04" width="20.94" height="10.77" fill="#8a5dff"/>
<rect x="518.28" y="1114.04" width="20.94" height="10.77" fill="#d4b9ff"/>
<rect x="538.93" y="1114.04" width="20.94" height="10.77" fill="#9569ff"/>
<rect x="559.58" y="1114.04" width="20.94" height="10.77" fill="#ffcfbf"/>
<rect x="580.22" y="1114.04" width="20.94" height="10.77" fill="#aa80ff"/>
<rect x="600.87" y="1114.04" width="20.94" height="10.77" fill="#e3d0ff"/>
<rect x="621.51" y="1114.04" width="41.59" height="10.77" fill="#ff0000"/>
<rect x="456.35" y="1124.52" width="20.94" height="10.77" fill="#0000ff"/>
<rect x="477.00" y="1124.52" width="20.94" height="10.77" fill="#8a5dff"/>
<rect x="497.64" y="1124.52" width="20.94" height="10.77" fill="#fbf8ff"/>
<rect x="518.28" y="1124.52" width="20.94" height="10.77" fill="#ccadff"/>
<rect x="538.93" y="1124.52" width="20.94" height="10.77" fill="#9569ff"/>
<rect x="559.58" y="1124.52" width="20.94" height="10.77" fill="#ffffff"/>
<rect x="580.22" y="1124.52" width="20.94" height="10.77" fill="#ff4d2e"/>
<rect x="600.87" y="1124.52" width="20.94" height="10.77" fill="#f6eeff"/>
<rect x="621.51" y="1124.52" width="20.94" height="10.77" fill="#ff8362"/>
<rect x="642.15" y="1124.52" width="20.94" height="10.77" fill="#ff0000"/>
<rect x="456.35" y="1134.99" width="41.59" height="10.77" fill="#0000ff"/>
<rect x="497.64" y="1134.99" width="20.94" height="10.77" fill="#fbf8ff"/>
<rect x="518.28" y="1134.99" width="20.94" height="10.77" fill="#e3d0ff"/>
<rect x="538.93" y="1134.99" width="20.94" height="10.77" fill="#0000ff"/>
<rect x="559.58" y="1134.99" width="20.94" height="10.77" fill="#ffb8a1"/>
<rect x="580.22" y="1134.99" width="20.94" height="10.77" fill="#ffb299"/>
<rect x="600.87" y="1134.99" width="20.94" height="10.77" fill="#ffcfbf"/>
<rect x="621.51" y="1134.99" width="41.59" height="10.77" fill="#ff0000"/>
<rect x="456.35" y="1145.46" width="20.94" height="10.77" fill="#c4a2ff"/>
<rect x="477.00" y="1145.46" width="20.94" height="10.77" fill="#0000ff"/>
<rect x="497.64" y="1145.46" width="20.94" height="10.77" fill="#ffd9cb"/>
<rect x="518.28" y="1145.46" width="20.94" height="10.77" fill="#0000ff"/>
<rect x="538.93" y="1145.46" width="20.94" height="10.77" fill="#aa80ff"/>
<rect x="559.58" y="1145.46" width="20.94" height="10.77" fill="#ff8969"/>
<rect x="580.22" y="1145.46" width="20.94" height="10.77" fill="#bebebe"/>
<rect x="600.87" y="1145.46" width="20.94" height="10.77" fill="#ffcfbf"/>
<rect x="621.51" y="1145.46" width="20.94" height="10.77" fill="#ff5333"/>
<rect x="642.15" y="1145.46" width="20.94" height="10.77" fill="#ff0000"/>
<rect x="456.35" y="1155.94" width="20.94" height="10.77" fill="#502bff"/>
<rect x="477.00" y="1155.94" width="20.94" height="10.77" fill="#0000ff"/>
<rect x="497.64" y="1155.94" width="20.94" height="10.77" fill="#bebebe"/>
<rect x="518.28" y="1155.94" width="20.94" height="10.77" fill="#2a12ff"/>
<rect x="538.93" y="1155.94" width="20.94" height="10.77" fill="#ffd9cb"/>
<rect x="559.58" y="1155.94" width="20.94" height="10.77" fill="#ffe6dd"/>
<rect x="580.22" y="1155.94" width="20.94" height="10.77" fill="#ff0000"/>
<rect x="600.87" y="1155.94" width="20.94" height="10.77" fill="#ffa88d"/>
<rect x="621.51" y="1155.94" width="20.94" height="10.77" fill="#bebebe"/>
<rect x="642.15" y="1155.94" width="20.94" height="10.77" fill="#ff0000"/>
<rect x="456.35" y="1166.41" width="20.94" height="10.77" fill="#ffffff"/>
<rect x="477.00" y="1166.41" width="20.94" height="10.77" fill="#0000ff"/>
<rect x="497.64" y="1166.41" width="20.94" height="10.77" fill="#ffece5"/>
<rect x="518.28" y="1166.41" width="20.94" height="10.77" fill="#0000ff"/>
<rect x="538.93" y="1166.41" width="41.59" height="10.77" fill="#bebebe"/>
<rect x="580.22" y="1166.41" width="20.94" height="10.77" fill="#ffa88d"/>
<rect x="600.87" y="1166.41" width="20.94" height="10.77" fill="#ff8969"/>
<rect x="621.51" y="1166.41" width="20.94" height="10.77" fill="#ff0000"/>
<rect x="642.15" y="1166.41" width="20.94" height="10.77" fill="#bebebe"/>
<rect x="456.35" y="1176.88" width="41.59" height="10.77" fill="#0000ff"/>
<rect x="497.64" y="1176.88" width="20.94" height="10.77" fill="#ffd9cb"/>
<rect x="518.28" y="1176.88" width="20.94" height="10.77" fill="#0000ff"/>
<rect x="538.93" y="1176.88" width="20.94" height="10.77" fill="#ffb299"/>
<rect x="559.58" y="1176.88" width="20.94" height="10.77" fill="#ff8362"/>
<rect x="580.22" y="1176.88" width="20.94" height="10.77" fill="#fbf8ff"/>
<rect x="600.87" y="1176.88" width="41.59" height="10.77" fill="#ff0000"/>
<rect x="642.15" y="1176.88" width="20.94" height="10.77" fill="#ff8362"/>
<rect x="456.35" y="1187.35" width="20.94" height="10.77" fill="#ccadff"/>
<rect x="477.00" y="1187.35" width="20.94" height="10.77" fill="#794dff"/>
<rect x="497.64" y="1187.35" width="20.94" height="10.77" fill="#7145ff"/>
<rect x="518.28" y="1187.35" width="20.94" height="10.77" fill="#b38bff"/>
<rect x="538.93" y="1187.35" width="20.94" height="10.77" fill="#6239ff"/>
<rect x="559.58" y="1187.35" width="20.94" height="10.77" fill="#9569ff"/>
<rect x="580.22" y="1187.35" width="20.94" height="10.77" fill="#ffe6dd"/>
<rect x="600.87" y="1187.35" width="20.94" height="10.77" fill="#ff0000"/>
<rect x="621.51" y="1187.35" width="20.94" height="10.77" fill="#ff9475"/>
<rect x="642.15" y="1187.35" width="20.94" height="10.77" fill="#ff0000"/>
<rect x="456.35" y="1197.83" width="20.94" height="10.77" fill="#bebebe"/>
<rect x="477.00" y="1197.83" width="20.94" height="10.77" fill="#502bff"/>
<rect x="497.64" y="1197.83" width="20.94" height="10.77" fill="#8a5dff"/>
<rect x="518.28" y="1197.83" width="20.94" height="10.77" fill="#381bff"/>
<rect x="538.93" y="1197.83" width="20.94" height="10.77" fill="#794dff"/>
<rect x="559.58" y="1197.83" width="20.94" height="10.77" fill="#fbf8ff"/>
<rect x="580.22" y="1197.83" width="20.94" height="10.77" fill="#ffe6dd"/>
<rect x="600.87" y="1197.83" width="20.94" height="10.77" fill="#ff0000"/>
<rect x="621.51" y="1197.83" width="20.94" height="10.77" fill="#ffd9cb"/>
<rect x="642.15" y="1197.83" width="20.94" height="10.77" fill="#ff0000"/>
</g>
<g font-size="9.3">
<text transform="translate(470.3 12.4) rotate(-90)">L1</text>
<text transform="translate(490.9 12.4) rotate(-90)">L2</text>
<text transform="translate(511.6 12.4) rotate(-90)">L3</text>
<text transform="translate(532.2 12.4) rotate(-90)">L4</text>
<text transform="translate(552.9 12.4) rotate(-90)">L5</text>
<text transform="translate(573.5 12.4) rotate(-90)">N1</text>
<text transform="translate(594.1 12.4) rotate(-90)">N2</text>
<text transform="translate(614.8 12.4) rotate(-90)">N3</text>
<text transform="translate(635.4 12.4) rotate(-90)">N4</text>
<text transform="translate(656.1 12.4) rotate(-90)">N5</text>
</g>
<g font-size="8.7">
<text x="665.8" y="21.3">A0A5C2GII4</text>
<text x="665.8" y="31.8">A0A068LRW6</text>
<text x="665.8" y="42.4">J3KPA1</text>
<text x="665.8" y="52.9">A0A5C2FVE4</text>
<text x="665.8" y="63.4">A0A5C2G6V7</text>
<text x="665.8" y="73.9">A0A5C2GAI0</text>
<text x="665.8" y="84.5">A0A5C2GTT7</text>
<text x="665.8" y="95.0">A0A5C2G3D5</text>
<text x="665.8" y="105.5">D3DNN4</text>
<text x="665.8" y="116.1">A0A5C2GL44</text>
<text x="665.8" y="126.6">A0A2U8J8Y8</text>
<text x="665.8" y="137.1">P11597</text>
<text x="665.8" y="147.6">A0A5C2GEV1</text>
<text x="665.8" y="158.2">A0A5C2GPE0</text>
<text x="665.8" y="168.7">A0A5C2GQ05</text>
<text x="665.8" y="179.2">A0A075B6I0</text>
<text x="665.8" y="189.7">A0A5C2GA02</text>
<text x="665.8" y="200.3">A0A5C2GAK7</text>
<text x="665.8" y="210.8">A0N7I9</text>
<text x="665.8" y="221.3">A0A5C2GK98</text>
<text x="665.8" y="231.9">A0A5C2FY46</text>
<text x="665.8" y="242.4">A0A5C2GM64</text>
<text x="665.8" y="252.9">B1N7B9</text>
<text x="665.8" y="263.4">A0A5C2G526</text>
<text x="665.8" y="274.0">A0A5C2GM88</text>
<text x="665.8" y="284.5">B2RBZ5</text>
<text x="665.8" y="295.0">B7Z556</text>
<text x="665.8" y="305.6">A0A5C2GH64</text>
<text x="665.8" y="316.1">A0A5C2FXR7</text>
<text x="665.8" y="326.6">A0A5C2FTW3</text>
<text x="665.8" y="337.1">P02770</text>
<text x="665.8" y="347.7">A0A5C2FVW7</text>
<text x="665.8" y="358.2">A0A5C2GF53</text>
<text x="665.8" y="368.7">A0A5C2GMH8</text>
<text x="665.8" y="379.3">A0A5C2GL85</text>
<text x="665.8" y="389.8">A0A5C2GGS9</text>
<text x="665.8" y="400.3">A0A5C2GPS6</text>
<text x="665.8" y="410.8">A0A5C2G641</text>
<text x="665.8" y="421.4">A0A5C2FX14</text>
<text x="665.8" y="431.9">A0A5C2G4E6</text>
<text x="665.8" y="442.4">A0A5C2GAK9</text>
<text x="665.8" y="452.9">P14780</text>
<text x="665.8" y="463.5">A0A5C2GPK3</text>
<text x="665.8" y="474.0">A0A5C2GH72</text>
<text x="665.8" y="484.5">A0A5C2G9H4</text>
<text x="665.8" y="495.1">A8K104</text>
<text x="665.8" y="505.6">A0A5C2G919</text>
<text x="665.8" y="516.1">A0A0B4J2B5</text>
<text x="665.8" y="526.6">A0A5C2GML1</text>
<text x="665.8" y="537.2">A0A5C2GC74</text>
<text x="665.8" y="547.7">A0A5C2GC86</text>
<text x="665.8" y="558.2">A0A5C2GZN1</text>
<text x="665.8" y="568.8">A0A5C2FW89</text>
<text x="665.8" y="579.3">A0A5C2GE66</text>
<text x="665.8" y="589.8">A0A5C2FWA1</text>
<text x="665.8" y="600.3">A0A5C2GN22</text>
<text x="665.8" y="610.9">A0A024R8G3</text>
<text x="665.8" y="621.4">A0A5C2GP67</text>
<text x="665.8" y="631.9">A0A5C2GET5</text>
<text x="665.8" y="642.5">A0A5C2GHL2</text>
<text x="665.8" y="653.0">A0A5C2FZE4</text>
<text x="665.8" y="663.5">A0A2U8J9A8</text>
<text x="665.8" y="674.0">A0A5C2GIT5</text>
<text x="665.8" y="684.6">A0A5C2GXM3</text>
<text x="665.8" y="695.1">A0A5C2GBS4</text>
<text x="665.8" y="705.6">A0A5C2GLJ1</text>
<text x="665.8" y="716.1">A0A5C2FZ00</text>
<text x="665.8" y="726.7">A0A1B1CYC5</text>
<text x="665.8" y="737.2">P02763</text>
<text x="665.8" y="747.7">A0A5C2GRK2</text>
<text x="665.8" y="758.3">A0A5C2FTX2</text>
<text x="665.8" y="768.8">A0A5C2GL29</text>
<text x="665.8" y="779.3">A0A5C2GVB5</text>
<text x="665.8" y="789.8">A0A5C2GSZ1</text>
<text x="665.8" y="800.4">A0A5C2GDY9</text>
<text x="665.8" y="810.9">A0A5C2G4I0</text>
<text x="665.8" y="821.4">A0A5C2G7M9</text>
<text x="665.8" y="832.0">A0A0A0MSA9</text>
<text x="665.8" y="842.5">A0A5C2G847</text>
<text x="665.8" y="853.0">A0A5C2GCV0</text>
<text x="665.8" y="863.5">P13671</text>
<text x="665.8" y="874.1">Q96PD5</text>
<text x="665.8" y="884.6">P02652</text>
<text x="665.8" y="895.1">A6XGL1</text>
<text x="665.8" y="905.7">P35858</text>
<text x="665.8" y="916.2">P10720</text>
<text x="665.8" y="926.7">B2R5G8</text>
<text x="665.8" y="937.2">P08519</text>
<text x="665.8" y="947.8">A0A5C2GL08</text>
<text x="665.8" y="958.3">A0A5C2GDM9</text>
<text x="665.8" y="968.8">A0A5C2H2K5</text>
<text x="665.8" y="979.3">A0A5C2FXW8</text>
<text x="665.8" y="989.9">A0A5C2GXT4</text>
<text x="665.8" y="1000.4">A0A5C2GXT5</text>
<text x="665.8" y="1010.9">A0A5C2GDZ7</text>
<text x="665.8" y="1021.5">A0A5C2GLX3</text>
<text x="665.8" y="1032.0">A0A5C2G736</text>
<text x="665.8" y="1042.5">A0A5C2GIX9</text>
<text x="665.8" y="1053.0">A0A024RAB9</text>
<text x="665.8" y="1063.6">A0A2P9AMP2</text>
<text x="665.8" y="1074.1">A0A5C2GUD6</text>
<text x="665.8" y="1084.6">P02760</text>
<text x="665.8" y="1095.2">A0A5C2G803</text>
<text x="665.8" y="1105.7">A0A5C2H1N9</text>
<text x="665.8" y="1116.2">A0A5C2GK09</text>
<text x="665.8" y="1126.7">A0A5C2GB45</text>
<text x="665.8" y="1137.3">A0A5C2GH46</text>
<text x="665.8" y="1147.8">A0A5C2G922</text>
<text x="665.8" y="1158.3">A0A5C2GRC6</text>
<text x="665.8" y="1168.9">A0A5C2GQL0</text>
<text x="665.8" y="1179.4">A0A5C2GCG4</text>
<text x="665.8" y="1189.9">A0A5C2GJI8</text>
<text x="665.8" y="1200.4">A0A5C2GGA1</text>
<text x="665.8" y="1211.0">A0A5C2GAT2</text>
</g>
<path d="M455.2 19.6H412.4V30.1H455.2M455.2 40.6H416.3V51.1H455.2M455.2 61.5H431.4V72.0H455.2M455.2 92.9H424.4V103.4H455.2M455.2 82.5H420.4V98.2H424.4M455.2 113.9H420.9V124.4H455.2M420.4 90.3H410.8V119.1H420.9M455.2 134.8H418.2V145.3H455.2M410.8 104.7H410.3V140.1H418.2M431.4 66.8H405.7V122.4H410.3M455.2 155.8H418.2V166.3H455.2M455.2 176.7H419.8V187.2H455.2M418.2 161.0H404.5V182.0H419.8M405.7 94.6H398.7V171.5H404.5M416.3 45.8H394.5V133.0H398.7M455.2 197.7H423.5V208.1H455.2M455.2 218.6H430.6V229.1H455.2M423.5 202.9H402.0V223.9H430.6M455.2 239.6H413.2V250.0H455.2M455.2 271.0H425.4V281.5H455.2M425.4 276.2H417.7V291.9H455.2M455.2 312.9H429.5V323.3H455.2M455.2 302.4H421.9V318.1H429.5M417.7 284.1H413.6V310.3H421.9M455.2 333.8H430.4V344.3H455.2M413.6 297.2H407.6V339.1H430.4M455.2 260.5H404.5V318.1H407.6M413.2 244.8H401.6V289.3H404.5M402.0 213.4H394.6V267.1H401.6M394.5 89.4H389.6V240.2H394.6M412.4 24.9H386.3V164.8H389.6M455.2 365.2H428.7V375.7H455.2M455.2 354.8H420.6V370.5H428.7M420.6 362.6H409.5V386.2H455.2M409.5 374.4H390.6V396.7H455.2M455.2 407.1H427.9V417.6H455.2M455.2 428.1H429.3V438.5H455.2M455.2 449.0H427.5V459.5H455.2M429.3 433.3H416.3V454.3H427.5M427.9 412.4H410.5V443.8H416.3M455.2 470.0H421.5V480.4H455.2M421.5 475.2H415.5V490.9H455.2M410.5 428.1H404.5V483.1H415.5M455.2 501.4H401.6V511.9H455.2M404.5 455.6H392.5V506.6H401.6M390.6 385.5H386.3V481.1H392.5M386.3 94.8H383.4V433.3H386.3M455.2 522.3H400.1V532.8H455.2M455.2 543.3H412.4V553.7H455.2M412.4 548.5H407.6V564.2H455.2M455.2 574.7H422.5V585.2H455.2M422.5 579.9H411.3V595.6H455.2M407.6 556.4H396.0V587.8H411.3M455.2 606.1H415.5V616.6H455.2M455.2 627.1H429.5V637.5H455.2M455.2 648.0H431.6V658.5H455.2M429.5 632.3H422.5V653.2H431.6M415.5 611.3H411.7V642.8H422.5M411.7 627.1H407.6V669.0H455.2M455.2 679.4H423.5V689.9H455.2M407.6 648.0H399.5V684.7H423.5M396.0 572.1H393.5V666.3H399.5M400.1 527.6H384.4V619.2H393.5M455.2 731.8H428.3V742.3H455.2M428.3 737.0H421.4V752.7H455.2M455.2 721.3H420.6V744.9H421.4M455.2 773.7H443.4V784.2H455.2M455.2 763.2H427.7V778.9H443.4M420.6 733.1H416.1V771.1H427.7M455.2 710.8H412.4V752.1H416.1M455.2 805.1H435.5V815.6H455.2M455.2 826.0H430.6V836.5H455.2M435.5 810.3H422.5V831.3H430.6M455.2 794.6H416.1V820.8H422.5M455.2 878.4H442.4V888.9H455.2M455.2 867.9H437.4V883.6H442.4M455.2 857.5H435.5V875.8H437.4M455.2 899.4H429.7V909.8H455.2M435.5 866.6H425.6V904.6H429.7M425.6 885.6H424.4V920.3H455.2M455.2 847.0H419.4V903.0H424.4M455.2 951.7H438.5V962.2H455.2M455.2 941.2H433.7V957.0H438.5M455.2 930.8H431.8V949.1H433.7M455.2 972.7H435.6V983.1H455.2M431.8 939.9H428.7V977.9H435.6M428.7 958.9H420.6V993.6H455.2M419.4 875.0H418.4V976.3H420.6M416.1 807.7H409.5V925.6H418.4M412.4 731.5H406.1V866.7H409.5M455.2 700.4H401.6V799.1H406.1M455.2 1025.0H438.4V1035.5H455.2M455.2 1014.6H431.2V1030.3H438.4M455.2 1004.1H426.6V1022.4H431.2M455.2 1056.4H426.6V1066.9H455.2M455.2 1046.0H424.4V1061.7H426.6M455.2 1087.9H438.5V1098.3H455.2M438.5 1093.1H429.7V1108.8H455.2M455.2 1077.4H426.6V1101.0H429.7M426.6 1089.2H420.8V1119.3H455.2M424.4 1053.8H411.3V1104.2H420.8M455.2 1129.8H422.5V1140.2H455.2M411.3 1079.0H407.6V1135.0H422.5M426.6 1013.2H402.6V1107.0H407.6M455.2 1150.7H421.5V1161.2H455.2M421.5 1155.9H414.8V1171.6H455.2M414.8 1163.8H404.5V1182.1H455.2M402.6 1060.1H398.7V1173.0H404.5M401.6 749.7H395.4V1116.5H398.7M455.2 1192.6H415.3V1203.1H455.2M395.4 933.1H387.3V1197.8H415.3M384.4 573.4H381.7V1065.5H387.3M383.4 264.1H326.4V819.4H381.7" stroke="#1a1a1a" stroke-width="0.65" fill="none"/>
<defs><linearGradient id="lg" x1="0" x2="1" y1="0" y2="0">
<stop offset="0.000" stop-color="#0000ff"/>
<stop offset="0.025" stop-color="#381bff"/>
<stop offset="0.050" stop-color="#502bff"/>
<stop offset="0.075" stop-color="#6239ff"/>
<stop offset="0.100" stop-color="#7145ff"/>
<stop offset="0.125" stop-color="#7e52ff"/>
<stop offset="0.150" stop-color="#8a5dff"/>
<stop offset="0.175" stop-color="#9569ff"/>
<stop offset="0.200" stop-color="#a074ff"/>
<stop offset="0.225" stop-color="#aa80ff"/>
<stop offset="0.250" stop-color="#b38bff"/>
<stop offset="0.275" stop-color="#bc97ff"/>
<stop offset="0.300" stop-color="#c4a2ff"/>
<stop offset="0.325" stop-color="#ccadff"/>
<stop offset="0.350" stop-color="#d4b9ff"/>
<stop offset="0.375" stop-color="#dcc4ff"/>
<stop offset="0.400" stop-color="#e3d0ff"/>
<stop offset="0.425" stop-color="#ebdcff"/>
<stop offset="0.450" stop-color="#f2e7ff"/>
<stop offset="0.475" stop-color="#f8f3ff"/>
<stop offset="0.500" stop-color="#ffffff"/>
<stop offset="0.525" stop-color="#fff5f2"/>
<stop offset="0.550" stop-color="#ffece5"/>
<stop offset="0.575" stop-color="#ffe2d8"/>
<stop offset="0.600" stop-color="#ffd9cb"/>
<stop offset="0.625" stop-color="#ffcfbf"/>
<stop offset="0.650" stop-color="#ffc6b2"/>
<stop offset="0.675" stop-color="#ffbca6"/>
<stop offset="0.700" stop-color="#ffb299"/>
<stop offset="0.725" stop-color="#ffa88d"/>
<stop offset="0.750" stop-color="#ff9e81"/>
<stop offset="0.775" stop-color="#ff9475"/>
<stop offset="0.800" stop-color="#ff8969"/>
<stop offset="0.825" stop-color="#ff7e5e"/>
<stop offset="0.850" stop-color="#ff7352"/>
<stop offset="0.875" stop-color="#ff6846"/>
<stop offset="0.900" stop-color="#ff5b3a"/>
<stop offset="0.925" stop-color="#ff4d2e"/>
<stop offset="0.950" stop-color="#ff3e22"/>
<stop offset="0.975" stop-color="#ff2913"/>
<stop offset="1.000" stop-color="#ff0000"/>
</linearGradient></defs>
<rect x="456.3" y="1213.7" width="129.4" height="10.3" fill="url(#lg)"/>
<path d="M488.7 1213.7v2M488.7 1224v-2M521.0 1213.7v2M521.0 1224v-2M553.4 1213.7v2M553.4 1224v-2" stroke="#fff" stroke-width="0.6" fill="none"/>
<g font-size="10" text-anchor="middle">
<text x="456.4" y="1239.2">-1</text>
<text x="486.6" y="1239.2">-0.5</text>
<text x="520.9" y="1239.2">0</text>
<text x="552.6" y="1239.2">0.5</text>
<text x="586.6" y="1239.2">1</text>
</g>
<text x="342.6" y="17.3" font-size="12">B</text>
</svg></body></html>
